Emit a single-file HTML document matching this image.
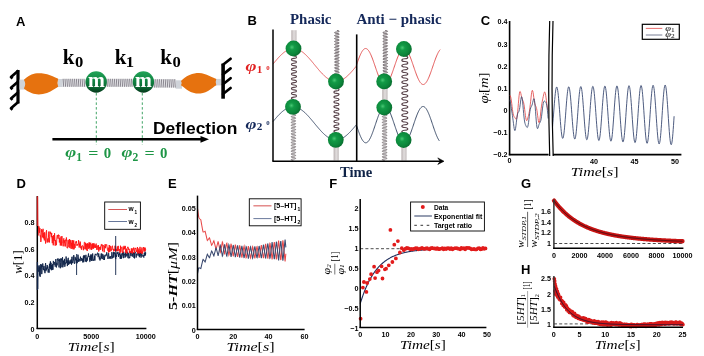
<!DOCTYPE html>
<html><head><meta charset="utf-8"><style>
html,body{margin:0;padding:0;background:#fff;overflow:hidden}
svg{display:block;will-change:transform}

</style></head><body>
<svg width="704" height="356" viewBox="0 0 704 356">
<rect width="704" height="356" fill="#fff"/>
<defs>
<linearGradient id="gb" x1="0" x2="0" y1="0" y2="1">
<stop offset="0" stop-color="#22a458"/><stop offset="0.45" stop-color="#108442"/><stop offset="0.75" stop-color="#0b6632"/><stop offset="1" stop-color="#05381b"/>
</linearGradient>
<radialGradient id="gs" cx="0.4" cy="0.42" r="0.75">
<stop offset="0" stop-color="#48c874"/><stop offset="0.22" stop-color="#129a46"/><stop offset="0.6" stop-color="#0b863a"/><stop offset="0.85" stop-color="#086a2d"/><stop offset="1" stop-color="#044a1e"/>
</radialGradient>
<linearGradient id="rod" x1="0" x2="1" y1="0" y2="0">
<stop offset="0" stop-color="#b8b0b0"/><stop offset="0.5" stop-color="#e2dede"/><stop offset="1" stop-color="#c4bebe"/>
</linearGradient>
</defs>
<text x="16" y="25.5" font-family="Liberation Sans" font-size="13" font-weight="bold" fill="#000">A</text>
<rect x="16.4" y="70" width="3.2" height="33.5" fill="#000"/>
<path d="M18.5,70.5 L11,77 L12.5,78.5" fill="none" stroke="#000" stroke-width="2.7" stroke-linejoin="round"/>
<path d="M18.5,81.2 L11,87.7 L12.5,89.2" fill="none" stroke="#000" stroke-width="2.7" stroke-linejoin="round"/>
<path d="M18.5,91.9 L11,98.4 L12.5,99.9" fill="none" stroke="#000" stroke-width="2.7" stroke-linejoin="round"/>
<path d="M18.5,101.8 L11,108.3 L12.5,109.8" fill="none" stroke="#000" stroke-width="2.7" stroke-linejoin="round"/>
<rect x="221.3" y="63.6" width="3.6" height="35.1" fill="#000"/>
<path d="M223,64.8 L230.6,58.8" fill="none" stroke="#000" stroke-width="2.7" stroke-linecap="round"/>
<path d="M223,74.4 L230.6,68.4" fill="none" stroke="#000" stroke-width="2.7" stroke-linecap="round"/>
<path d="M223,84.2 L230.6,78.2" fill="none" stroke="#000" stroke-width="2.7" stroke-linecap="round"/>
<path d="M223,94 L230.6,88" fill="none" stroke="#000" stroke-width="2.7" stroke-linecap="round"/>
<rect x="19.5" y="79.6" width="5.5" height="10" fill="#cfd3d9"/>
<rect x="57.5" y="79" width="5.3" height="8" fill="#cfd3d9"/>
<rect x="175.6" y="80.3" width="6.4" height="8.4" fill="#cfd3d9"/>
<rect x="215" y="78.9" width="6" height="6.5" fill="#cfd3d9"/>
<path d="M23.9,79.7 C27,77 30,74.5 35,73.6 C40,73 45,73.6 50,75.3 C54,76.8 56,77.8 58.2,78.8 Q56.8,82.7 58.2,86.8 C55,88.5 52,91 47,93 C42,94.8 36,94.8 32,93.3 C28,92 26,90 23.9,88.6 Q26.5,84 23.9,79.7 Z" fill="#e6720f"/>
<path d="M181,81 C183.5,78.5 185.5,76.5 189.5,75 C193,73.5 196,73 199,73 C203,73.3 206,74.3 209,75.8 C212,77.2 214,78 216.3,78.9 Q215,82 216.3,85.2 C214,86.5 212,88.5 208,91 C204,93.2 200,93.8 196,93.5 C192,92.8 189,91.5 186.5,89.5 C184.5,88 183,86.5 181,85.2 Q182.5,83 181,81 Z" fill="#e6720f"/>
<rect x="62.8" y="78.8" width="23.7" height="8" fill="#e9e9ec"/>
<path d="M63.1,78.8 L63.7,86.8 M65,78.8 L65.6,86.8 M66.9,78.8 L67.5,86.8 M68.8,78.8 L69.4,86.8 M70.7,78.8 L71.3,86.8 M72.6,78.8 L73.2,86.8 M74.5,78.8 L75.1,86.8 M76.4,78.8 L77,86.8 M78.3,78.8 L78.9,86.8 M80.2,78.8 L80.8,86.8 M82.1,78.8 L82.7,86.8 M84,78.8 L84.6,86.8" stroke="#55505c" stroke-width="0.65" fill="none"/>
<rect x="106.5" y="78.8" width="27" height="8" fill="#e9e9ec"/>
<path d="M106.8,78.8 L107.4,86.8 M108.7,78.8 L109.3,86.8 M110.6,78.8 L111.2,86.8 M112.5,78.8 L113.1,86.8 M114.4,78.8 L115,86.8 M116.3,78.8 L116.9,86.8 M118.2,78.8 L118.8,86.8 M120.1,78.8 L120.7,86.8 M122,78.8 L122.6,86.8 M123.9,78.8 L124.5,86.8 M125.8,78.8 L126.4,86.8 M127.7,78.8 L128.3,86.8 M129.6,78.8 L130.2,86.8 M131.5,78.8 L132.1,86.8" stroke="#55505c" stroke-width="0.65" fill="none"/>
<rect x="153.5" y="79.2" width="22.5" height="8.4" fill="#e9e9ec"/>
<path d="M153.8,79.2 L154.4,87.6 M155.7,79.2 L156.3,87.6 M157.6,79.2 L158.2,87.6 M159.5,79.2 L160.1,87.6 M161.4,79.2 L162,87.6 M163.3,79.2 L163.9,87.6 M165.2,79.2 L165.8,87.6 M167.1,79.2 L167.7,87.6 M169,79.2 L169.6,87.6 M170.9,79.2 L171.5,87.6 M172.8,79.2 L173.4,87.6 M174.7,79.2 L175.3,87.6" stroke="#55505c" stroke-width="0.65" fill="none"/>
<circle cx="96.2" cy="82" r="10.7" fill="url(#gb)"/>
<circle cx="143.4" cy="82" r="10.7" fill="url(#gb)"/>
<text x="96.3" y="86.9" font-family="Liberation Serif" font-size="22" font-weight="bold" fill="#ffffff" text-anchor="middle" textLength="16.8" lengthAdjust="spacingAndGlyphs">m</text>
<text x="143.5" y="86.9" font-family="Liberation Serif" font-size="22" font-weight="bold" fill="#ffffff" text-anchor="middle" textLength="16.8" lengthAdjust="spacingAndGlyphs">m</text>
<text x="62.7" y="63.7" font-family="Liberation Serif" font-size="21.5" font-weight="bold" fill="#000" textLength="11.6" lengthAdjust="spacingAndGlyphs">k</text>
<text x="74.9" y="67" font-family="Liberation Serif" font-size="14" font-weight="bold" fill="#000" textLength="8.3" lengthAdjust="spacingAndGlyphs">0</text>
<text x="114.7" y="63.7" font-family="Liberation Serif" font-size="21.5" font-weight="bold" fill="#000" textLength="11.6" lengthAdjust="spacingAndGlyphs">k</text>
<text x="125.8" y="67" font-family="Liberation Serif" font-size="14" font-weight="bold" fill="#000" textLength="8.3" lengthAdjust="spacingAndGlyphs">1</text>
<text x="160.3" y="63.7" font-family="Liberation Serif" font-size="21.5" font-weight="bold" fill="#000" textLength="11.6" lengthAdjust="spacingAndGlyphs">k</text>
<text x="172.5" y="67" font-family="Liberation Serif" font-size="14" font-weight="bold" fill="#000" textLength="8.3" lengthAdjust="spacingAndGlyphs">0</text>
<line x1="96.3" y1="93" x2="96.3" y2="145" stroke="#2a9a55" stroke-width="0.9" stroke-dasharray="2.5,2.2"/>
<line x1="142.3" y1="93" x2="142.3" y2="145" stroke="#2a9a55" stroke-width="0.9" stroke-dasharray="2.5,2.2"/>
<line x1="52.4" y1="139.3" x2="202" y2="139.3" stroke="#000" stroke-width="2.6"/>
<path d="M200.5,135.9 L209,139.3 L200.5,142.7 Z" fill="#000"/>
<text x="153" y="134.3" font-family="Liberation Sans" font-size="17.4" font-weight="bold" fill="#000" textLength="84.3" lengthAdjust="spacingAndGlyphs">Deflection</text>
<text x="65.3" y="157.2" font-family="Liberation Serif" font-size="15" font-weight="bold" font-style="italic" fill="#1e9646" textLength="11" lengthAdjust="spacingAndGlyphs">&#966;</text>
<text x="76.3" y="160.6" font-family="Liberation Serif" font-size="11.5" font-weight="bold" fill="#1e9646" textLength="5.8" lengthAdjust="spacingAndGlyphs">1</text>
<text x="88.3" y="157.5" font-family="Liberation Serif" font-size="15" font-weight="bold" fill="#1e9646" textLength="10.2" lengthAdjust="spacingAndGlyphs">=</text>
<text x="103.7" y="157.5" font-family="Liberation Serif" font-size="15" font-weight="bold" fill="#1e9646" textLength="7.4" lengthAdjust="spacingAndGlyphs">0</text>
<text x="121.6" y="157.2" font-family="Liberation Serif" font-size="15" font-weight="bold" font-style="italic" fill="#1e9646" textLength="11" lengthAdjust="spacingAndGlyphs">&#966;</text>
<text x="132.6" y="160.6" font-family="Liberation Serif" font-size="11.5" font-weight="bold" fill="#1e9646" textLength="5.8" lengthAdjust="spacingAndGlyphs">2</text>
<text x="144.6" y="157.5" font-family="Liberation Serif" font-size="15" font-weight="bold" fill="#1e9646" textLength="10.2" lengthAdjust="spacingAndGlyphs">=</text>
<text x="160" y="157.5" font-family="Liberation Serif" font-size="15" font-weight="bold" fill="#1e9646" textLength="7.4" lengthAdjust="spacingAndGlyphs">0</text>
<text x="247.5" y="25.3" font-family="Liberation Sans" font-size="13" font-weight="bold" fill="#000">B</text>
<text x="290" y="24" font-family="Liberation Serif" font-size="15" font-weight="bold" fill="#14285a" textLength="41.5" lengthAdjust="spacingAndGlyphs">Phasic</text>
<text x="356.4" y="24" font-family="Liberation Serif" font-size="15" font-weight="bold" fill="#14285a" textLength="85.2" lengthAdjust="spacingAndGlyphs">Anti &#8722; phasic</text>
<text x="339.9" y="176.7" font-family="Liberation Serif" font-size="14.5" font-weight="bold" fill="#0f2347" textLength="32.4" lengthAdjust="spacingAndGlyphs">Time</text>
<rect x="291.3" y="30.2" width="5.3" height="11.8" fill="url(#rod)"/>
<path d="M294,56 C297.38,56.24 297.38,58.17 294,58.42 C290.62,58.66 290.62,60.59 294,60.83 C297.38,61.08 297.38,63.01 294,63.25 C290.62,63.49 290.62,65.42 294,65.67 C297.38,65.91 297.38,67.84 294,68.08 C290.62,68.33 290.62,70.26 294,70.5 C297.38,70.74 297.38,72.67 294,72.92 C290.62,73.16 290.62,75.09 294,75.33 C297.38,75.57 297.38,77.51 294,77.75 C290.62,77.99 290.62,79.92 294,80.17 C297.38,80.41 297.38,82.34 294,82.58 C290.62,82.82 290.62,84.76 294,85 C297.38,85.24 297.38,87.17 294,87.42 C290.62,87.66 290.62,89.59 294,89.83 C297.38,90.07 297.38,92.01 294,92.25 C290.62,92.49 290.62,94.42 294,94.67 C297.38,94.91 297.38,96.84 294,97.08 C290.62,97.32 290.62,99.26 294,99.5" stroke="#5a454c" stroke-width="1.15" fill="none"/>
<path d="M293.4,114.5 C296.39,114.64 296.39,115.79 293.4,115.94 C290.41,116.08 290.41,117.23 293.4,117.38 C296.39,117.52 296.39,118.67 293.4,118.81 C290.41,118.96 290.41,120.11 293.4,120.25 C296.39,120.39 296.39,121.54 293.4,121.69 C290.41,121.83 290.41,122.98 293.4,123.12 C296.39,123.27 296.39,124.42 293.4,124.56 C290.41,124.71 290.41,125.86 293.4,126 C296.39,126.14 296.39,127.29 293.4,127.44 C290.41,127.58 290.41,128.73 293.4,128.88 C296.39,129.02 296.39,130.17 293.4,130.31 C290.41,130.46 290.41,131.61 293.4,131.75 C296.39,131.89 296.39,133.04 293.4,133.19 C290.41,133.33 290.41,134.48 293.4,134.62 C296.39,134.77 296.39,135.92 293.4,136.06 C290.41,136.21 290.41,137.36 293.4,137.5 C296.39,137.64 296.39,138.79 293.4,138.94 C290.41,139.08 290.41,140.23 293.4,140.38 C296.39,140.52 296.39,141.67 293.4,141.81 C290.41,141.96 290.41,143.11 293.4,143.25 C296.39,143.39 296.39,144.54 293.4,144.69 C290.41,144.83 290.41,145.98 293.4,146.12 C296.39,146.27 296.39,147.42 293.4,147.56 C290.41,147.71 290.41,148.86 293.4,149 C296.39,149.14 296.39,150.29 293.4,150.44 C290.41,150.58 290.41,151.73 293.4,151.88 C296.39,152.02 296.39,153.17 293.4,153.31 C290.41,153.46 290.41,154.61 293.4,154.75 C296.39,154.89 296.39,156.04 293.4,156.19 C290.41,156.33 290.41,157.48 293.4,157.62 C296.39,157.77 296.39,158.92 293.4,159.06 C290.41,159.21 290.41,160.36 293.4,160.5" stroke="#6a6266" stroke-width="0.85" fill="none"/>
<path d="M336.9,30.5 C340.02,30.65 340.02,31.82 336.9,31.97 C333.78,32.11 333.78,33.29 336.9,33.43 C340.02,33.58 340.02,34.75 336.9,34.9 C333.78,35.05 333.78,36.22 336.9,36.37 C340.02,36.51 340.02,37.69 336.9,37.83 C333.78,37.98 333.78,39.15 336.9,39.3 C340.02,39.45 340.02,40.62 336.9,40.77 C333.78,40.91 333.78,42.09 336.9,42.23 C340.02,42.38 340.02,43.55 336.9,43.7 C333.78,43.85 333.78,45.02 336.9,45.17 C340.02,45.31 340.02,46.49 336.9,46.63 C333.78,46.78 333.78,47.95 336.9,48.1 C340.02,48.25 340.02,49.42 336.9,49.57 C333.78,49.71 333.78,50.89 336.9,51.03 C340.02,51.18 340.02,52.35 336.9,52.5 C333.78,52.65 333.78,53.82 336.9,53.97 C340.02,54.11 340.02,55.29 336.9,55.43 C333.78,55.58 333.78,56.75 336.9,56.9 C340.02,57.05 340.02,58.22 336.9,58.37 C333.78,58.51 333.78,59.69 336.9,59.83 C340.02,59.98 340.02,61.15 336.9,61.3 C333.78,61.45 333.78,62.62 336.9,62.77 C340.02,62.91 340.02,64.09 336.9,64.23 C333.78,64.38 333.78,65.55 336.9,65.7 C340.02,65.85 340.02,67.02 336.9,67.17 C333.78,67.31 333.78,68.49 336.9,68.63 C340.02,68.78 340.02,69.95 336.9,70.1 C333.78,70.25 333.78,71.42 336.9,71.57 C340.02,71.71 340.02,72.89 336.9,73.03 C333.78,73.18 333.78,74.35 336.9,74.5" stroke="#5e5458" stroke-width="0.9" fill="none"/>
<path d="M336.5,88.5 C339.88,88.74 339.88,90.7 336.5,90.94 C333.12,91.19 333.12,93.14 336.5,93.39 C339.88,93.63 339.88,95.59 336.5,95.83 C333.12,96.08 333.12,98.03 336.5,98.28 C339.88,98.52 339.88,100.48 336.5,100.72 C333.12,100.97 333.12,102.92 336.5,103.17 C339.88,103.41 339.88,105.37 336.5,105.61 C333.12,105.86 333.12,107.81 336.5,108.06 C339.88,108.3 339.88,110.26 336.5,110.5 C333.12,110.74 333.12,112.7 336.5,112.94 C339.88,113.19 339.88,115.14 336.5,115.39 C333.12,115.63 333.12,117.59 336.5,117.83 C339.88,118.08 339.88,120.03 336.5,120.28 C333.12,120.52 333.12,122.48 336.5,122.72 C339.88,122.97 339.88,124.92 336.5,125.17 C333.12,125.41 333.12,127.37 336.5,127.61 C339.88,127.86 339.88,129.81 336.5,130.06 C333.12,130.3 333.12,132.26 336.5,132.5" stroke="#5a454c" stroke-width="1.15" fill="none"/>
<rect x="333.6" y="147" width="5.2" height="13.5" fill="url(#rod)"/>
<path d="M385.2,30.5 C388.32,30.65 388.32,31.82 385.2,31.97 C382.08,32.11 382.08,33.29 385.2,33.43 C388.32,33.58 388.32,34.75 385.2,34.9 C382.08,35.05 382.08,36.22 385.2,36.37 C388.32,36.51 388.32,37.69 385.2,37.83 C382.08,37.98 382.08,39.15 385.2,39.3 C388.32,39.45 388.32,40.62 385.2,40.77 C382.08,40.91 382.08,42.09 385.2,42.23 C388.32,42.38 388.32,43.55 385.2,43.7 C382.08,43.85 382.08,45.02 385.2,45.17 C388.32,45.31 388.32,46.49 385.2,46.63 C382.08,46.78 382.08,47.95 385.2,48.1 C388.32,48.25 388.32,49.42 385.2,49.57 C382.08,49.71 382.08,50.89 385.2,51.03 C388.32,51.18 388.32,52.35 385.2,52.5 C382.08,52.65 382.08,53.82 385.2,53.97 C388.32,54.11 388.32,55.29 385.2,55.43 C382.08,55.58 382.08,56.75 385.2,56.9 C388.32,57.05 388.32,58.22 385.2,58.37 C382.08,58.51 382.08,59.69 385.2,59.83 C388.32,59.98 388.32,61.15 385.2,61.3 C382.08,61.45 382.08,62.62 385.2,62.77 C388.32,62.91 388.32,64.09 385.2,64.23 C382.08,64.38 382.08,65.55 385.2,65.7 C388.32,65.85 388.32,67.02 385.2,67.17 C382.08,67.31 382.08,68.49 385.2,68.63 C388.32,68.78 388.32,69.95 385.2,70.1 C382.08,70.25 382.08,71.42 385.2,71.57 C388.32,71.71 388.32,72.89 385.2,73.03 C382.08,73.18 382.08,74.35 385.2,74.5" stroke="#5e5458" stroke-width="0.9" fill="none"/>
<rect x="382.2" y="88" width="5.4" height="12.5" fill="url(#rod)"/>
<path d="M384.6,114.5 C387.72,114.64 387.72,115.79 384.6,115.94 C381.48,116.08 381.48,117.23 384.6,117.38 C387.72,117.52 387.72,118.67 384.6,118.81 C381.48,118.96 381.48,120.11 384.6,120.25 C387.72,120.39 387.72,121.54 384.6,121.69 C381.48,121.83 381.48,122.98 384.6,123.12 C387.72,123.27 387.72,124.42 384.6,124.56 C381.48,124.71 381.48,125.86 384.6,126 C387.72,126.14 387.72,127.29 384.6,127.44 C381.48,127.58 381.48,128.73 384.6,128.88 C387.72,129.02 387.72,130.17 384.6,130.31 C381.48,130.46 381.48,131.61 384.6,131.75 C387.72,131.89 387.72,133.04 384.6,133.19 C381.48,133.33 381.48,134.48 384.6,134.62 C387.72,134.77 387.72,135.92 384.6,136.06 C381.48,136.21 381.48,137.36 384.6,137.5 C387.72,137.64 387.72,138.79 384.6,138.94 C381.48,139.08 381.48,140.23 384.6,140.38 C387.72,140.52 387.72,141.67 384.6,141.81 C381.48,141.96 381.48,143.11 384.6,143.25 C387.72,143.39 387.72,144.54 384.6,144.69 C381.48,144.83 381.48,145.98 384.6,146.12 C387.72,146.27 387.72,147.42 384.6,147.56 C381.48,147.71 381.48,148.86 384.6,149 C387.72,149.14 387.72,150.29 384.6,150.44 C381.48,150.58 381.48,151.73 384.6,151.88 C387.72,152.02 387.72,153.17 384.6,153.31 C381.48,153.46 381.48,154.61 384.6,154.75 C387.72,154.89 387.72,156.04 384.6,156.19 C381.48,156.33 381.48,157.48 384.6,157.62 C387.72,157.77 387.72,158.92 384.6,159.06 C381.48,159.21 381.48,160.36 384.6,160.5" stroke="#6a6266" stroke-width="0.85" fill="none"/>
<path d="M404.8,56 C408.7,56.27 408.7,58.48 404.8,58.75 C400.9,59.02 400.9,61.23 404.8,61.5 C408.7,61.77 408.7,63.98 404.8,64.25 C400.9,64.53 400.9,66.72 404.8,67 C408.7,67.28 408.7,69.47 404.8,69.75 C400.9,70.03 400.9,72.22 404.8,72.5 C408.7,72.78 408.7,74.97 404.8,75.25 C400.9,75.53 400.9,77.72 404.8,78 C408.7,78.28 408.7,80.47 404.8,80.75 C400.9,81.03 400.9,83.22 404.8,83.5 C408.7,83.78 408.7,85.97 404.8,86.25 C400.9,86.53 400.9,88.72 404.8,89 C408.7,89.28 408.7,91.47 404.8,91.75 C400.9,92.03 400.9,94.22 404.8,94.5 C408.7,94.78 408.7,96.97 404.8,97.25 C400.9,97.53 400.9,99.72 404.8,100 C408.7,100.28 408.7,102.47 404.8,102.75 C400.9,103.03 400.9,105.22 404.8,105.5 C408.7,105.78 408.7,107.97 404.8,108.25 C400.9,108.53 400.9,110.72 404.8,111 C408.7,111.28 408.7,113.47 404.8,113.75 C400.9,114.03 400.9,116.22 404.8,116.5 C408.7,116.78 408.7,118.97 404.8,119.25 C400.9,119.53 400.9,121.72 404.8,122 C408.7,122.28 408.7,124.47 404.8,124.75 C400.9,125.03 400.9,127.22 404.8,127.5 C408.7,127.78 408.7,129.97 404.8,130.25 C400.9,130.53 400.9,132.72 404.8,133" stroke="#5a454c" stroke-width="1.25" fill="none"/>
<rect x="401.4" y="147" width="5.2" height="13.5" fill="url(#rod)"/>
<path d="M273,64.09 273.4,63.6 273.8,63.11 274.2,62.63 274.6,62.15 275,61.67 275.4,61.19 275.8,60.72 276.2,60.25 276.6,59.79 277,59.32 277.4,58.87 277.8,58.42 278.2,57.97 278.6,57.54 279,57.1 279.4,56.68 279.8,56.26 280.2,55.85 280.6,55.45 281,55.06 281.4,54.67 281.8,54.3 282.2,53.93 282.6,53.57 283,53.23 283.4,52.89 283.8,52.56 284.2,52.25 284.6,51.94 285,51.65 285.4,51.37 285.8,51.1 286.2,50.84 286.6,50.6 287,50.37 287.4,50.15 287.8,49.94 288.2,49.75 288.6,49.57 289,49.4 289.4,49.25 289.8,49.11 290.2,48.99 290.6,48.88 291,48.78 291.4,48.7 291.8,48.63 292.2,48.58 292.6,48.54 293,48.51 293.4,48.5 293.8,48.5 294.2,48.52 294.6,48.55 295,48.6 295.4,48.66 295.8,48.74 296.2,48.83 296.6,48.93 297,49.05 297.4,49.18 297.8,49.33 298.2,49.49 298.6,49.66 299,49.84 299.4,50.04 299.8,50.26 300.2,50.48 300.6,50.72 301,50.97 301.4,51.23 301.8,51.51 302.2,51.8 302.6,52.09 303,52.4 303.4,52.72 303.8,53.06 304.2,53.4 304.6,53.75 305,54.11 305.4,54.48 305.8,54.86 306.2,55.25 306.6,55.65 307,56.06 307.4,56.47 307.8,56.89 308.2,57.32 308.6,57.75 309,58.2 309.4,58.64 309.8,59.1 310.2,59.55 310.6,60.02 311,60.48 311.4,60.96 311.8,61.43 312.2,61.91 312.6,62.39 313,62.87 313.4,63.36 313.8,63.84 314.2,64.33 314.6,64.82 315,65.3 315.4,65.79 315.8,66.28 316.2,66.77 316.6,67.25 317,67.73 317.4,68.21 317.8,68.69 318.2,69.16 318.6,69.63 319,70.1 319.4,70.56 319.8,71.02 320.2,71.47 320.6,71.91 321,72.35 321.4,72.79 321.8,73.21 322.2,73.63 322.6,74.05 323,74.45 323.4,74.85 323.8,75.23 324.2,75.61 324.6,75.98 325,76.34 325.4,76.69 325.8,77.03 326.2,77.36 326.6,77.67 327,77.98 327.4,78.28 327.8,78.56 328.2,78.83 328.6,79.09 329,79.34 329.4,79.57 329.8,79.8 330.2,80.01 330.6,80.2 331,80.39 331.4,80.56 331.8,80.71 332.2,80.85 332.6,80.98 333,81.1 333.4,81.2 333.8,81.28 334.2,81.35 334.6,81.41 335,81.45 335.4,81.48 335.8,81.5 336.2,81.5 336.6,81.48 337,81.45 337.4,81.41 337.8,81.35 338.2,81.28 338.6,81.2 339,81.1 339.4,80.98 339.8,80.85 340.2,80.71 340.6,80.56 341,80.39 341.4,80.2 341.8,80.01 342.2,79.8 342.6,79.57 343,79.34 343.4,79.09 343.8,78.83 344.2,78.56 344.6,78.28 345,77.98 345.4,77.67 345.8,77.36 346.2,77.03 346.6,76.69 347,76.34 347.4,75.98 347.8,75.61 348.2,75.23 348.6,74.85 349,74.45 349.4,74.05 349.8,73.63 350.2,73.21 350.6,72.79 351,72.35 351.4,71.91 351.8,71.47 352.2,71.02 352.6,70.56 353,70.1 353.4,69.63 353.8,69.16 354.2,68.69 354.6,68.21 355,67.73 355.4,67.25 355.8,66.77 356.2,66.28 356.6,64.74 357,63.57 357.4,62.41 357.8,61.27 358.2,60.16 358.6,59.07 359,58.01 359.4,56.99 359.8,56.02 360.2,55.08 360.6,54.2 361,53.36 361.4,52.59 361.8,51.87 362.2,51.21 362.6,50.63 363,50.1 363.4,49.65 363.8,49.28 364.2,48.97 364.6,48.74 365,48.59 365.4,48.51 365.8,48.51 366.2,48.59 366.6,48.74 367,48.97 367.4,49.28 367.8,49.65 368.2,50.1 368.6,50.63 369,51.21 369.4,51.87 369.8,52.59 370.2,53.36 370.6,54.2 371,55.08 371.4,56.02 371.8,56.99 372.2,58.01 372.6,59.07 373,60.16 373.4,61.27 373.8,62.41 374.2,63.57 374.6,64.74 375,65.91 375.4,67.09 375.8,68.26 376.2,69.43 376.6,70.59 377,71.73 377.4,72.84 377.8,73.93 378.2,74.99 378.6,76.01 379,76.98 379.4,77.92 379.8,78.8 380.2,79.64 380.6,80.41 381,81.13 381.4,81.79 381.8,82.37 382.2,82.9 382.6,83.35 383,83.72 383.4,84.03 383.8,84.26 384.2,84.41 384.6,84.49 385,84.49 385.4,84.41 385.8,84.26 386.2,84.03 386.6,83.72 387,83.35 387.4,82.9 387.8,82.37 388.2,81.79 388.6,81.13 389,80.41 389.4,79.64 389.8,78.8 390.2,77.92 390.6,76.98 391,76.01 391.4,74.99 391.8,73.93 392.2,72.84 392.6,71.73 393,70.59 393.4,69.43 393.8,68.26 394.2,67.09 394.6,65.91 395,64.74 395.4,63.57 395.8,62.41 396.2,61.27 396.6,60.16 397,59.07 397.4,58.01 397.8,56.99 398.2,56.02 398.6,55.08 399,54.2 399.4,53.36 399.8,52.59 400.2,51.87 400.6,51.21 401,50.63 401.4,50.1 401.8,49.65 402.2,49.28 402.6,48.97 403,48.74 403.4,48.59 403.8,48.51 404.2,48.51 404.6,48.59 405,48.74 405.4,48.97 405.8,49.28 406.2,49.65 406.6,50.1 407,50.63 407.4,51.21 407.8,51.87 408.2,52.59 408.6,53.36 409,54.2 409.4,55.08 409.8,56.02 410.2,56.99 410.6,58.01 411,59.07 411.4,60.16 411.8,61.27 412.2,62.41 412.6,63.57 413,64.74 413.4,65.91 413.8,67.09 414.2,68.26 414.6,69.43 415,70.59 415.4,71.73 415.8,72.84 416.2,73.93 416.6,74.99 417,76.01 417.4,76.98 417.8,77.92 418.2,78.8 418.6,79.64 419,80.41 419.4,81.13 419.8,81.79 420.2,82.37 420.6,82.9 421,83.35 421.4,83.72 421.8,84.03 422.2,84.26 422.6,84.41 423,84.49 423.4,84.49 423.8,84.41 424.2,84.26 424.6,84.03 425,83.72 425.4,83.35 425.8,82.9 426.2,82.37 426.6,81.79 427,81.13 427.4,80.41 427.8,79.64 428.2,78.8 428.6,77.92 429,76.98 429.4,76.01 429.8,74.99 430.2,73.93 430.6,72.84 431,71.73 431.4,70.59 431.8,69.43 432.2,68.26 432.6,67.09 433,65.91 433.4,64.74 433.8,63.57 434.2,62.41 434.6,61.27 435,60.16 435.4,59.07 435.8,58.01 436.2,56.99 436.6,56.02 437,55.08 437.4,54.2 437.8,53.36 438.2,52.59 438.6,51.87 439,51.21 439.4,50.63 439.8,50.1 440.2,49.65" stroke="#e04848" stroke-width="0.9" fill="none"/>
<path d="M273,121.58 273.4,121.1 273.8,120.62 274.2,120.15 274.6,119.67 275,119.2 275.4,118.73 275.8,118.27 276.2,117.81 276.6,117.36 277,116.91 277.4,116.46 277.8,116.03 278.2,115.59 278.6,115.17 279,114.75 279.4,114.34 279.8,113.94 280.2,113.54 280.6,113.16 281,112.78 281.4,112.41 281.8,112.05 282.2,111.7 282.6,111.37 283,111.04 283.4,110.72 283.8,110.41 284.2,110.11 284.6,109.83 285,109.56 285.4,109.29 285.8,109.04 286.2,108.81 286.6,108.58 287,108.37 287.4,108.17 287.8,107.98 288.2,107.81 288.6,107.65 289,107.5 289.4,107.37 289.8,107.25 290.2,107.15 290.6,107.05 291,106.98 291.4,106.91 291.8,106.86 292.2,106.83 292.6,106.81 293,106.8 293.4,106.81 293.8,106.83 294.2,106.86 294.6,106.91 295,106.98 295.4,107.05 295.8,107.15 296.2,107.25 296.6,107.37 297,107.5 297.4,107.65 297.8,107.81 298.2,107.98 298.6,108.17 299,108.37 299.4,108.58 299.8,108.81 300.2,109.04 300.6,109.29 301,109.56 301.4,109.83 301.8,110.11 302.2,110.41 302.6,110.72 303,111.04 303.4,111.37 303.8,111.7 304.2,112.05 304.6,112.41 305,112.78 305.4,113.16 305.8,113.54 306.2,113.94 306.6,114.34 307,114.75 307.4,115.17 307.8,115.59 308.2,116.03 308.6,116.46 309,116.91 309.4,117.36 309.8,117.81 310.2,118.27 310.6,118.73 311,119.2 311.4,119.67 311.8,120.15 312.2,120.62 312.6,121.1 313,121.58 313.4,122.07 313.8,122.55 314.2,123.04 314.6,123.52 315,124.01 315.4,124.49 315.8,124.97 316.2,125.46 316.6,125.94 317,126.42 317.4,126.89 317.8,127.36 318.2,127.83 318.6,128.3 319,128.76 319.4,129.22 319.8,129.67 320.2,130.11 320.6,130.56 321,130.99 321.4,131.42 321.8,131.84 322.2,132.25 322.6,132.66 323,133.06 323.4,133.45 323.8,133.83 324.2,134.2 324.6,134.57 325,134.92 325.4,135.27 325.8,135.6 326.2,135.92 326.6,136.24 327,136.54 327.4,136.83 327.8,137.11 328.2,137.38 328.6,137.63 329,137.88 329.4,138.11 329.8,138.33 330.2,138.53 330.6,138.72 331,138.9 331.4,139.07 331.8,139.22 332.2,139.36 332.6,139.49 333,139.6 333.4,139.7 333.8,139.79 334.2,139.86 334.6,139.91 335,139.96 335.4,139.98 335.8,140 336.2,140 336.6,139.98 337,139.96 337.4,139.91 337.8,139.86 338.2,139.79 338.6,139.7 339,139.6 339.4,139.49 339.8,139.36 340.2,139.22 340.6,139.07 341,138.9 341.4,138.72 341.8,138.53 342.2,138.33 342.6,138.11 343,137.88 343.4,137.63 343.8,137.38 344.2,137.11 344.6,136.83 345,136.54 345.4,136.24 345.8,135.92 346.2,135.6 346.6,135.27 347,134.92 347.4,134.57 347.8,134.2 348.2,133.83 348.6,133.45 349,133.06 349.4,132.66 349.8,132.25 350.2,131.84 350.6,131.42 351,130.99 351.4,130.56 351.8,130.11 352.2,129.67 352.6,129.22 353,128.76 353.4,128.3 353.8,127.83 354.2,127.36 354.6,126.89 355,126.42 355.4,125.94 355.8,125.46 356.2,124.97 356.6,125.69 357,126.88 357.4,128.06 357.8,129.23 358.2,130.37 358.6,131.49 359,132.58 359.4,133.64 359.8,134.66 360.2,135.63 360.6,136.56 361,137.43 361.4,138.25 361.8,139.01 362.2,139.71 362.6,140.34 363,140.91 363.4,141.4 363.8,141.83 364.2,142.18 364.6,142.45 365,142.64 365.4,142.76 365.8,142.8 366.2,142.76 366.6,142.64 367,142.45 367.4,142.18 367.8,141.83 368.2,141.4 368.6,140.91 369,140.34 369.4,139.71 369.8,139.01 370.2,138.25 370.6,137.43 371,136.56 371.4,135.63 371.8,134.66 372.2,133.64 372.6,132.58 373,131.49 373.4,130.37 373.8,129.23 374.2,128.06 374.6,126.88 375,125.69 375.4,124.5 375.8,123.31 376.2,122.12 376.6,120.94 377,119.78 377.4,118.65 377.8,117.53 378.2,116.45 378.6,115.4 379,114.4 379.4,113.43 379.8,112.52 380.2,111.66 380.6,110.85 381,110.11 381.4,109.43 381.8,108.81 382.2,108.26 382.6,107.78 383,107.38 383.4,107.05 383.8,106.8 384.2,106.62 384.6,106.52 385,106.5 385.4,106.56 385.8,106.7 386.2,106.91 386.6,107.2 387,107.57 387.4,108.01 387.8,108.53 388.2,109.11 388.6,109.76 389,110.47 389.4,111.25 389.8,112.08 390.2,112.97 390.6,113.91 391,114.89 391.4,115.92 391.8,116.99 392.2,118.09 392.6,119.21 393,120.36 393.4,121.53 393.8,122.71 394.2,123.9 394.6,125.1 395,126.29 395.4,127.47 395.8,128.65 396.2,129.8 396.6,130.94 397,132.04 397.4,133.12 397.8,134.15 398.2,135.15 398.6,136.1 399,137 399.4,137.85 399.8,138.64 400.2,139.37 400.6,140.04 401,140.63 401.4,141.17 401.8,141.62 402.2,142.01 402.6,142.32 403,142.56 403.4,142.71 403.8,142.79 404.2,142.79 404.6,142.71 405,142.56 405.4,142.32 405.8,142.01 406.2,141.62 406.6,141.17 407,140.63 407.4,140.04 407.8,139.37 408.2,138.64 408.6,137.85 409,137 409.4,136.1 409.8,135.15 410.2,134.15 410.6,133.12 411,132.04 411.4,130.94 411.8,129.8 412.2,128.65 412.6,127.47 413,126.29 413.4,125.1 413.8,123.9 414.2,122.71 414.6,121.53 415,120.36 415.4,119.21 415.8,118.09 416.2,116.99 416.6,115.92 417,114.89 417.4,113.91 417.8,112.97 418.2,112.08 418.6,111.25 419,110.47 419.4,109.76 419.8,109.11 420.2,108.53 420.6,108.01 421,107.57 421.4,107.2 421.8,106.91 422.2,106.7 422.6,106.56 423,106.5 423.4,106.52 423.8,106.62 424.2,106.8 424.6,107.05 425,107.38 425.4,107.78 425.8,108.26 426.2,108.81 426.6,109.43 427,110.11 427.4,110.85 427.8,111.66 428.2,112.52 428.6,113.43 429,114.4 429.4,115.4 429.8,116.45 430.2,117.53 430.6,118.65 431,119.78 431.4,120.94 431.8,122.12 432.2,123.31 432.6,124.5 433,125.69 433.4,126.88 433.8,128.06 434.2,129.23 434.6,130.37 435,131.49 435.4,132.58 435.8,133.64 436.2,134.66 436.6,135.63 437,136.56 437.4,137.43 437.8,138.25 438.2,139.01 438.6,139.71 439,140.34 439.4,140.91" stroke="#2c3e5c" stroke-width="0.9" fill="none"/>
<circle cx="293.5" cy="48.5" r="7.9" fill="url(#gs)"/>
<circle cx="336" cy="81.5" r="7.9" fill="url(#gs)"/>
<circle cx="293" cy="106.8" r="7.9" fill="url(#gs)"/>
<circle cx="335.8" cy="139.8" r="7.9" fill="url(#gs)"/>
<circle cx="384.2" cy="81.4" r="7.9" fill="url(#gs)"/>
<circle cx="403.9" cy="49" r="7.9" fill="url(#gs)"/>
<circle cx="384.3" cy="107.5" r="7.9" fill="url(#gs)"/>
<circle cx="403.6" cy="140" r="7.9" fill="url(#gs)"/>
<line x1="273" y1="29.5" x2="273" y2="161.1" stroke="#000" stroke-width="1.5"/>
<line x1="356.7" y1="34.4" x2="356.7" y2="161.1" stroke="#000" stroke-width="1.6"/>
<line x1="272.3" y1="161.25" x2="441" y2="161.25" stroke="#000" stroke-width="1.6"/>
<path d="M437.8,157.9 L444,161.25 L437.8,164.4 L440.2,161.25 Z" fill="#000" stroke="#000" stroke-width="0.6" stroke-linejoin="round"/>
<text x="245.6" y="71.2" font-family="Liberation Serif" font-size="15" font-weight="bold" font-style="italic" fill="#e02020" textLength="11" lengthAdjust="spacingAndGlyphs">&#966;</text>
<text x="256.8" y="73" font-family="Liberation Serif" font-size="11" font-weight="bold" fill="#e02020" textLength="5.6" lengthAdjust="spacingAndGlyphs">1</text>
<text x="266.2" y="70.4" font-family="Liberation Serif" font-size="6.8" font-weight="bold" fill="#e02020">0</text>
<text x="245.6" y="128.5" font-family="Liberation Serif" font-size="15" font-weight="bold" font-style="italic" fill="#14285a" textLength="11" lengthAdjust="spacingAndGlyphs">&#966;</text>
<text x="256.8" y="130.3" font-family="Liberation Serif" font-size="11" font-weight="bold" fill="#14285a" textLength="5.6" lengthAdjust="spacingAndGlyphs">2</text>
<text x="266.2" y="125.4" font-family="Liberation Serif" font-size="6.8" font-weight="bold" fill="#14285a">0</text>
<text x="480.8" y="25.2" font-family="Liberation Sans" font-size="13" font-weight="bold" fill="#000">C</text>
<line x1="509.6" y1="21" x2="509.6" y2="155.3" stroke="#000" stroke-width="1.6"/>
<line x1="508.8" y1="154.6" x2="548.6" y2="154.6" stroke="#000" stroke-width="1.6"/>
<line x1="552" y1="154.6" x2="681.4" y2="154.6" stroke="#000" stroke-width="1.6"/>
<text x="507.4" y="24.4" font-family="Liberation Sans" font-size="7.2" font-weight="bold" fill="#000" text-anchor="end">0.4</text>
<text x="507.4" y="46.53" font-family="Liberation Sans" font-size="7.2" font-weight="bold" fill="#000" text-anchor="end">0.3</text>
<text x="507.4" y="68.66" font-family="Liberation Sans" font-size="7.2" font-weight="bold" fill="#000" text-anchor="end">0.2</text>
<text x="507.4" y="90.79" font-family="Liberation Sans" font-size="7.2" font-weight="bold" fill="#000" text-anchor="end">0.1</text>
<text x="507.4" y="112.92" font-family="Liberation Sans" font-size="7.2" font-weight="bold" fill="#000" text-anchor="end">0</text>
<text x="507.4" y="135.05" font-family="Liberation Sans" font-size="7.2" font-weight="bold" fill="#000" text-anchor="end">&#8722;0.1</text>
<text x="507.4" y="157.18" font-family="Liberation Sans" font-size="7.2" font-weight="bold" fill="#000" text-anchor="end">&#8722;0.2</text>
<text x="509.5" y="163.3" font-family="Liberation Sans" font-size="7.2" font-weight="bold" fill="#000" text-anchor="middle">0</text>
<text x="594" y="164.3" font-family="Liberation Sans" font-size="7.2" font-weight="bold" fill="#000" text-anchor="middle">40</text>
<text x="634.4" y="164.3" font-family="Liberation Sans" font-size="7.2" font-weight="bold" fill="#000" text-anchor="middle">45</text>
<text x="675" y="164.3" font-family="Liberation Sans" font-size="7.2" font-weight="bold" fill="#000" text-anchor="middle">50</text>
<text x="570.8" y="175.6" font-family="Liberation Serif" font-size="12.5" font-weight="normal" font-style="italic" fill="#000" textLength="47.7" lengthAdjust="spacingAndGlyphs">Time<tspan font-style="normal">[</tspan>s<tspan font-style="normal">]</tspan></text>
<text transform="translate(487.8,103.6) rotate(-90)" font-family="Liberation Serif" font-size="13.5" font-style="italic" fill="#000" textLength="31" lengthAdjust="spacingAndGlyphs">&#966;<tspan font-size="8.5" dy="1.5">i</tspan><tspan dy="-1.5" font-style="normal">[</tspan>m<tspan font-style="normal">]</tspan></text>
<path d="M510,95.27 510.35,95.88 510.7,97 511.05,98.7 511.4,100.96 511.75,103.64 512.1,106.51 512.45,109.31 512.8,111.79 513.15,113.77 513.5,115.19 513.85,116.12 514.2,116.71 514.55,117.15 514.9,117.6 515.25,118.13 515.6,118.71 515.95,119.17 516.3,119.27 516.65,118.72 517,117.31 517.35,114.93 517.7,111.64 518.05,107.66 518.4,103.38 518.75,99.25 519.1,95.73 519.45,93.16 519.8,91.74 520.15,91.48 520.5,92.19 520.85,93.56 521.2,95.24 521.55,96.89 521.9,98.27 522.25,99.3 522.6,100.06 522.95,100.74 523.3,101.57 523.65,102.8 524,104.57 524.35,106.9 524.7,109.65 525.05,112.58 525.4,115.39 525.75,117.77 526.1,119.49 526.45,120.43 526.8,120.61 527.15,120.14 527.5,119.21 527.85,118.01 528.2,116.68 528.55,115.28 528.9,113.77 529.25,112.05 529.6,109.98 529.95,107.47 530.3,104.53 530.65,101.26 531,97.92 531.35,94.83 531.7,92.35 532.05,90.79 532.4,90.33 532.75,90.99 533.1,92.64 533.45,94.96 533.8,97.58 534.15,100.12 534.5,102.28 534.85,103.91 535.2,105.01 535.55,105.76 535.9,106.42 536.25,107.3 536.6,108.63 536.95,110.54 537.3,112.96 537.65,115.69 538,118.39 538.35,120.67 538.7,122.18 539.05,122.67 539.4,122.05 539.75,120.4 540.1,117.94 540.45,114.98 540.8,111.86 541.15,108.86 541.5,106.15 541.85,103.8 542.2,101.77 542.55,99.95 542.9,98.23 543.25,96.55 543.6,94.94 543.95,93.5 544.3,92.43 544.65,91.95 545,92.22 545.35,93.33 545.7,95.24 546.05,97.75 546.4,100.6 546.75,103.47 547.1,106.05 547.45,108.14 547.8,109.67 548.15,110.72" stroke="#e24848" stroke-width="0.85" fill="none"/>
<path d="M510,99.87 510.35,101.84 510.7,104.1 511.05,106.44 511.4,108.73 511.75,110.96 512.1,113.2 512.45,115.55 512.8,118.09 513.15,120.84 513.5,123.67 513.85,126.36 514.2,128.61 514.55,130.11 514.9,130.61 515.25,129.99 515.6,128.31 515.95,125.81 516.3,122.83 516.65,119.79 517,117.07 517.35,114.95 517.7,113.52 518.05,112.69 518.4,112.2 518.75,111.71 519.1,110.88 519.45,109.49 519.8,107.44 520.15,104.86 520.5,102.07 520.85,99.48 521.2,97.56 521.55,96.7 521.9,97.13 522.25,98.88 522.6,101.77 522.95,105.46 523.3,109.51 523.65,113.47 524,116.99 524.35,119.85 524.7,122 525.05,123.52 525.4,124.6 525.75,125.42 526.1,126.13 526.45,126.77 526.8,127.29 527.15,127.52 527.5,127.28 527.85,126.39 528.2,124.79 528.55,122.53 528.9,119.76 529.25,116.78 529.6,113.89 529.95,111.36 530.3,109.39 530.65,108.01 531,107.1 531.35,106.47 531.7,105.83 532.05,104.98 532.4,103.79 532.75,102.29 533.1,100.71 533.45,99.37 533.8,98.66 534.15,98.94 534.5,100.46 534.85,103.24 535.2,107.1 535.55,111.68 535.9,116.47 536.25,120.93 536.6,124.59 536.95,127.13 537.3,128.44 537.65,128.63 538,127.96 538.35,126.81 538.7,125.51 539.05,124.37 539.4,123.49 539.75,122.87 540.1,122.33 540.45,121.64 540.8,120.56 541.15,118.93 541.5,116.71 541.85,114 542.2,111.03 542.55,108.1 542.9,105.5 543.25,103.45 543.6,102.06 543.95,101.31 544.3,101.08 544.65,101.18 545,101.45 545.35,101.76 545.7,102.14 546.05,102.69 546.4,103.62 546.75,105.15 547.1,107.45 547.45,110.56 547.8,114.36 548.15,118.56" stroke="#3a4a72" stroke-width="0.85" fill="none"/>
<path d="M552,132.07 552.3,129.31 552.6,126.13 552.9,122.62 553.2,118.86 553.5,114.94 553.8,110.96 554.1,107.02 554.4,103.21 554.7,99.63 555,96.36 555.3,93.48 555.6,91.07 555.9,89.18 556.2,87.86 556.5,87.13 556.8,87.02 557.1,87.53 557.4,88.66 557.7,90.37 558,92.62 558.3,95.36 558.6,98.52 558.9,102.03 559.2,105.8 559.5,109.74 559.8,113.75 560.1,117.73 560.4,121.59 560.7,125.24 561,128.58 561.3,131.53 561.6,134.03 561.9,136 562.2,137.4 562.5,138.2 562.8,138.38 563.1,137.92 563.4,136.85 563.7,135.19 564,132.97 564.3,130.26 564.6,127.11 564.9,123.61 565.2,119.83 565.5,115.88 565.8,111.85 566.1,107.84 566.4,103.94 566.7,100.25 567,96.86 567.3,93.86 567.6,91.32 567.9,89.29 568.2,87.84 568.5,86.99 568.8,86.78 569.1,87.19 569.4,88.24 569.7,89.88 570,92.08 570.3,94.79 570.6,97.95 570.9,101.47 571.2,105.26 571.5,109.25 571.8,113.33 572.1,117.39 572.4,121.35 572.7,125.11 573,128.57 573.3,131.64 573.6,134.26 573.9,136.36 574.2,137.89 574.5,138.81 574.8,139.09 575.1,138.73 575.4,137.75 575.7,136.15 576,133.98 576.3,131.3 576.6,128.17 576.9,124.66 577.2,120.86 577.5,116.86 577.8,112.76 578.1,108.67 578.4,104.67 578.7,100.88 579,97.37 579.3,94.25 579.6,91.57 579.9,89.42 580.2,87.84 580.5,86.88 580.8,86.55 581.1,86.87 581.4,87.82 581.7,89.4 582,91.55 582.3,94.22 582.6,97.36 582.9,100.89 583.2,104.71 583.5,108.74 583.8,112.88 584.1,117.03 584.4,121.08 584.7,124.95 585,128.52 585.3,131.72 585.6,134.47 585.9,136.7 586.2,138.35 586.5,139.39 586.8,139.79 587.1,139.53 587.4,138.63 587.7,137.11 588,135 588.3,132.35 588.6,129.24 588.9,125.72 589.2,121.9 589.5,117.86 589.8,113.7 590.1,109.53 590.4,105.44 590.7,101.53 591,97.91 591.3,94.66 591.6,91.86 591.9,89.58 592.2,87.87 592.5,86.78 592.8,86.34 593.1,86.56 593.4,87.42 593.7,88.92 594,91.01 594.3,93.65 594.6,96.77 594.9,100.3 595.2,104.14 595.5,108.22 595.8,112.42 596.1,116.64 596.4,120.79 596.7,124.76 597,128.45 597.3,131.77 597.6,134.65 597.9,137.01 598.2,138.79 598.5,139.95 598.8,140.47 599.1,140.32 599.4,139.51 599.7,138.07 600,136.01 600.3,133.41 600.6,130.31 600.9,126.8 601.2,122.96 601.5,118.88 601.8,114.66 602.1,110.41 602.4,106.23 602.7,102.22 603,98.48 603.3,95.11 603.6,92.18 603.9,89.76 604.2,87.93 604.5,86.71 604.8,86.15 605.1,86.26 605.4,87.03 605.7,88.45 606,90.48 606.3,93.07 606.6,96.17 606.9,99.69 607.2,103.56 607.5,107.67 607.8,111.93 608.1,116.23 608.4,120.46 608.7,124.54 609,128.34 609.3,131.79 609.6,134.8 609.9,137.29 610.2,139.2 610.5,140.49 610.8,141.13 611.1,141.09 611.4,140.38 611.7,139.01 612,137.03 612.3,134.47 612.6,131.4 612.9,127.89 613.2,124.03 613.5,119.91 613.8,115.64 614.1,111.32 614.4,107.05 614.7,102.93 615,99.08 615.3,95.58 615.6,92.52 615.9,89.97 616.2,88.01 616.5,86.66 616.8,85.98 617.1,85.98 617.4,86.65 617.7,87.98 618,89.95 618.3,92.5 618.6,95.56 618.9,99.08 619.2,102.96 619.5,107.1 619.8,111.41 620.1,115.78 620.4,120.11 620.7,124.29 621,128.21 621.3,131.78 621.6,134.92 621.9,137.54 622.2,139.59 622.5,141.01 622.8,141.77 623.1,141.84 623.4,141.23 623.7,139.95 624,138.04 624.3,135.53 624.6,132.48 624.9,128.99 625.2,125.12 625.5,120.97 625.8,116.64 626.1,112.25 626.4,107.89 626.7,103.68 627,99.71 627.3,96.09 627.6,92.9 627.9,90.22 628.2,88.11 628.5,86.64 628.8,85.83 629.1,85.71 629.4,86.28 629.7,87.53 630,89.42 630.3,91.92 630.6,94.95 630.9,98.46 631.2,102.34 631.5,106.52 631.8,110.88 632.1,115.32 632.4,119.73 632.7,124.01 633,128.04 633.3,131.74 633.6,135.01 633.9,137.77 634.2,139.95 634.5,141.5 634.8,142.39 635.1,142.58 635.4,142.07 635.7,140.88 636,139.04 636.3,136.59 636.6,133.58 636.9,130.1 637.2,126.22 637.5,122.04 637.8,117.67 638.1,113.21 638.4,108.77 638.7,104.45 639,100.37 639.3,96.62 639.6,93.3 639.9,90.49 640.2,88.25 640.5,86.64 640.8,85.71 641.1,85.47 641.4,85.93 641.7,87.08 642,88.9 642.3,91.34 642.6,94.34 642.9,97.82 643.2,101.71 643.5,105.91 643.8,110.32 644.1,114.83 644.4,119.32 644.7,123.7 645,127.85 645.3,131.67 645.6,135.07 645.9,137.96 646.2,140.28 646.5,141.97 646.8,142.98 647.1,143.29 647.4,142.9 647.7,141.8 648,140.04 648.3,137.64 648.6,134.68 648.9,131.21 649.2,127.33 649.5,123.14 649.8,118.72 650.1,114.19 650.4,109.67 650.7,105.25 651,101.06 651.3,97.19 651.6,93.74 651.9,90.78 652.2,88.41 652.5,86.67 652.8,85.6 653.1,85.24 653.4,85.59 653.7,86.65 654,88.38 654.3,90.76 654.6,93.71 654.9,97.18 655.2,101.07 655.5,105.29 655.8,109.74 656.1,114.31 656.4,118.89 656.7,123.36 657,127.62 657.3,131.57 657.6,135.1 657.9,138.13 658.2,140.59 658.5,142.41 658.8,143.55 659.1,143.99 659.4,143.71 659.7,142.71 660,141.03 660.3,138.7 660.6,135.78 660.9,132.34 661.2,128.46 661.5,124.24 661.8,119.79 662.1,115.2 662.4,110.59 662.7,106.09 663,101.78 663.3,97.79 663.6,94.2 663.9,91.11 664.2,88.6 664.5,86.72 664.8,85.52 665.1,85.03 665.4,85.27 665.7,86.22 666,87.87 666.3,90.18 666.6,93.09 666.9,96.53 667.2,100.42 667.5,104.66 667.8,109.14 668.1,113.77 668.4,118.43 668.7,123 669,127.37 669.3,131.43 669.6,135.1 669.9,138.27 670.2,140.86 670.5,142.83 670.8,144.1 671.1,144.67 671.4,144.5 671.7,143.61 672,142.02 672.3,139.76 672.6,136.89 672.9,133.47 673.2,129.6 673.5,125.37 673.8,120.87 674.1,116.23" stroke="#3a4a72" stroke-width="0.9" fill="none"/>
<path d="M551.2,20.5 Q549.2,88 551.2,156" stroke="#fff" stroke-width="3.4" fill="none"/>
<path d="M549.7,20.9 Q547.7,88 549.7,156" stroke="#000" stroke-width="1.2" fill="none"/>
<path d="M553,20.9 Q551,88 553.2,156" stroke="#000" stroke-width="1.2" fill="none"/>
<rect x="642.3" y="24.3" width="37" height="15" fill="#fff" stroke="#000" stroke-width="1.2"/>
<line x1="645.8" y1="28.4" x2="662.3" y2="28.4" stroke="#e24848" stroke-width="0.8"/>
<line x1="645.8" y1="35" x2="662.3" y2="35" stroke="#6a7088" stroke-width="0.9"/>
<text x="665.2" y="30.6" font-family="Liberation Serif" font-size="8.5" font-weight="normal" font-style="italic" fill="#000" textLength="9.4" lengthAdjust="spacingAndGlyphs">&#966;<tspan font-size="6" dy="0.9" font-style="normal">1</tspan></text>
<text x="665.2" y="37.2" font-family="Liberation Serif" font-size="8.5" font-weight="normal" font-style="italic" fill="#000" textLength="9.4" lengthAdjust="spacingAndGlyphs">&#966;<tspan font-size="6" dy="0.9" font-style="normal">2</tspan></text>
<text x="16.4" y="188.2" font-family="Liberation Sans" font-size="13" font-weight="bold" fill="#000">D</text>
<text x="34.6" y="225.3" font-family="Liberation Sans" font-size="7.2" font-weight="bold" fill="#000" text-anchor="end">0.8</text>
<text x="34.6" y="251.85" font-family="Liberation Sans" font-size="7.2" font-weight="bold" fill="#000" text-anchor="end">0.6</text>
<text x="34.6" y="278.4" font-family="Liberation Sans" font-size="7.2" font-weight="bold" fill="#000" text-anchor="end">0.4</text>
<text x="34.6" y="304.95" font-family="Liberation Sans" font-size="7.2" font-weight="bold" fill="#000" text-anchor="end">0.2</text>
<text x="34.6" y="331.5" font-family="Liberation Sans" font-size="7.2" font-weight="bold" fill="#000" text-anchor="end">0</text>
<text x="37.3" y="338.8" font-family="Liberation Sans" font-size="7.2" font-weight="bold" fill="#000" text-anchor="middle">0</text>
<text x="91.3" y="338.8" font-family="Liberation Sans" font-size="7.2" font-weight="bold" fill="#000" text-anchor="middle">5000</text>
<text x="145.8" y="338.8" font-family="Liberation Sans" font-size="7.2" font-weight="bold" fill="#000" text-anchor="middle">10000</text>
<text x="67.8" y="350.5" font-family="Liberation Serif" font-size="12.5" font-weight="normal" font-style="italic" fill="#000" textLength="46.9" lengthAdjust="spacingAndGlyphs">Time<tspan font-style="normal">[</tspan>s<tspan font-style="normal">]</tspan></text>
<text transform="translate(21.5,273.8) rotate(-90)" font-family="Liberation Serif" font-size="12" font-style="italic" fill="#000" textLength="23.6" lengthAdjust="spacingAndGlyphs">w<tspan font-style="normal">[1]</tspan></text>
<path d="M37.6,266.97 37.7,289 37.92,265.69 38.24,269.73 38.56,271.57 38.88,270.36 39.2,265.36 39.52,275.54 39.84,266.92 40.16,276.84 40.48,269.02 40.8,264.04 41.12,267.24 41.44,264.74 41.76,274.11 42.08,270.75 42.4,267.77 42.72,263.46 43.04,265.25 43.36,268.07 43.68,270.02 44,266.09 44.32,271.21 44.64,269.42 44.96,273.2 45.28,265.4 45.6,263.07 45.92,271.2 46.24,267.6 46.56,269.76 46.88,268.4 47.2,264.97 47.52,268.4 47.84,266.52 48.16,272.52 48.48,268.86 48.8,269.19 49.12,272.67 49.44,263.77 49.76,268.38 50.08,265.72 50.4,261.39 50.72,269.21 51.04,262.77 51.36,270.19 51.68,264.98 52,270.07 52.32,269.71 52.64,264.24 52.96,269.69 53.28,260.91 53.6,261.76 53.92,264.63 54.24,261.93 54.56,263.65 54.88,265.26 55.2,266.59 55.52,265.64 55.84,259.06 56.16,267.28 56.48,267.37 56.8,262.73 57.12,265.3 57.44,258.81 57.76,259.79 58.08,258.48 58.4,259.51 58.72,261.79 59.04,267.36 59.36,259.24 59.68,261.35 60,258.8 60.32,268.24 60.64,262.59 60.96,258.35 61.28,260.04 61.6,258.85 61.92,267.27 62.24,258.55 62.56,257.2 62.88,267.27 63.2,264.17 63.52,260.6 63.84,264.8 64.16,264.78 64.48,258.87 64.8,266.76 65.12,264.81 65.44,264.03 65.76,261.65 66.08,256.53 66.4,259.05 66.72,263.22 67.04,260.63 67.36,266.08 67.68,259.65 68,258.19 68.32,257.9 68.64,264.86 68.96,260.55 69.28,263.69 69.6,262.23 69.92,263.37 70.24,260.27 70.56,263.29 70.88,263.33 71.2,259.27 71.52,264.63 71.84,256.94 72.16,256.7 72.48,263.04 72.8,263.16 73.12,261.46 73.44,260.34 73.76,255.13 74.08,261.2 74.4,263.86 74.72,263.2 75.04,256.83 75.36,257.56 75.68,260.3 76,258.66 76.32,263.24 76.64,258.92 76.96,263.06 77.28,263.12 77.6,259.45 77.92,254.62 78.24,256.11 78.56,261.78 78.88,258.71 79.2,259.43 79.52,259.03 79.84,261.42 80.16,259.31 80.48,256.67 80.8,258.74 81.12,260.98 81.44,258.06 81.76,258.58 82.08,260.22 82.4,258.74 82.72,262.36 83.04,261.73 83.36,256.16 83.68,262.22 84,254.99 84.32,257.67 84.64,255.84 84.96,259.6 85.28,261.56 85.6,259.92 85.92,254.84 86.24,262.04 86.56,261.86 86.88,257.75 87.2,260.72 87.52,257.19 87.84,256.35 88.16,256.14 88.48,253.52 88.8,257.12 89.12,256.15 89.44,257.67 89.76,261.68 90.08,261.53 90.4,255.46 90.72,259.8 91.04,254.24 91.36,260.85 91.68,255.28 92,260.83 92.32,258.95 92.64,253.5 92.96,256.56 93.28,260.84 93.6,259.65 93.92,260.07 94.24,260.09 94.56,255.7 94.88,260.55 95.2,253.9 95.52,254.78 95.84,254.12 96.16,254.43 96.48,255.25 96.8,255.1 97.12,254.16 97.44,252.83 97.76,252.78 98.08,257.14 98.4,256.49 98.72,253.46 99.04,256.09 99.36,259.33 99.68,256.64 100,260.46 100.32,259.22 100.64,257.61 100.96,255.26 101.28,253.49 101.6,258.37 101.92,253.72 102.24,259.11 102.56,257.72 102.88,254.29 103.2,255.99 103.52,255.86 103.84,259.93 104.16,256.62 104.48,259.91 104.8,255.07 105.12,255.25 105.44,256.18 105.76,256.18 106.08,254.27 106.4,255.31 106.72,252.34 107.04,253.97 107.36,256.26 107.68,257.24 108,258.94 108.32,254.62 108.64,253.24 108.96,257.04 109.28,258.51 109.6,256.88 109.92,258.29 110.24,256.04 110.56,258.42 110.88,258.33 111.2,258.82 111.52,257.27 111.84,252.18 112.16,254.69 112.48,258.3 112.8,256.69 113.12,257.07 113.44,251.91 113.76,257.55 114.08,255.92 114.4,252.35 114.72,253.74 115.04,253.83 115.36,253.36 115.68,259.15 116,254.67 116.32,256.92 116.64,256.4 116.96,252.34 117.28,253.65 117.6,254.01 117.92,251.82 118.24,253.72 118.56,256.87 118.88,253.86 119.2,255.14 119.52,252.56 119.84,253.14 120.16,258.6 120.48,255.05 120.8,258.8 121.12,253.61 121.44,258.6 121.76,255.9 122.08,255.46 122.4,252.57 122.72,255.32 123.04,256.74 123.36,258.15 123.68,251.74 124,255.15 124.32,253.75 124.64,254.05 124.96,257.66 125.28,256.99 125.6,252.38 125.92,256.69 126.24,253.6 126.56,254.34 126.88,255.75 127.2,254.57 127.52,251.81 127.84,257.5 128.16,258.21 128.48,253.36 128.8,252.8 129.12,258.32 129.44,257.27 129.76,257.99 130.08,255.35 130.4,251.75 130.72,254.63 131.04,256.01 131.36,251.73 131.68,252.28 132,253.82 132.32,256.64 132.64,253.21 132.96,253.49 133.28,254.15 133.6,252.49 133.92,257.78 134.24,252.89 134.56,258.4 134.88,252.3 135.2,251.95 135.52,251.94 135.84,253.12 136.16,257.57 136.48,254.2 136.8,254.98 137.12,253.66 137.44,253.22 137.76,252.15 138.08,255.69 138.4,252.77 138.72,252.99 139.04,254.38 139.36,257.2 139.68,251.38 140,256.2 140.32,254.54 140.64,251.22 140.96,257.7 141.28,257.19 141.6,252.94 141.92,252.28 142.24,255.96 142.56,256.23 142.88,256.52 143.2,255.02 143.52,256.62 143.84,257.57 144.16,253.28 144.48,252.91 144.8,256.01 145.12,251.64 145.44,255.19 145.76,252.7" stroke="#0f2348" stroke-width="0.95" fill="none"/>
<path d="M37.6,196.5 37.92,235.62 38.24,233.89 38.56,226.32 38.88,226.17 39.2,226.88 39.52,232.71 39.84,228.09 40.16,236.22 40.48,235.56 40.8,241.94 41.12,240.21 41.44,229.27 41.76,231.97 42.08,230.16 42.4,237.32 42.72,236.06 43.04,228.81 43.36,238.32 43.68,232.95 44,235.17 44.32,240.37 44.64,232.34 44.96,236.63 45.28,239.75 45.6,243.52 45.92,235.45 46.24,231.73 46.56,230.25 46.88,240.8 47.2,242.49 47.52,240.02 47.84,238.5 48.16,242.28 48.48,237.24 48.8,231.59 49.12,239.88 49.44,242.41 49.76,236.49 50.08,231.63 50.4,233.76 50.72,232.4 51.04,233.49 51.36,237.15 51.68,233.09 52,239.5 52.32,243.19 52.64,236.11 52.96,237.29 53.28,245.28 53.6,235.11 53.92,235.98 54.24,240.72 54.56,233.24 54.88,238.07 55.2,245.68 55.52,240.15 55.84,242.3 56.16,245.22 56.48,244.98 56.8,238.98 57.12,235.46 57.44,235.06 57.76,236.99 58.08,238.73 58.4,234.63 58.72,235.99 59.04,235.16 59.36,242.46 59.68,238.14 60,239.59 60.32,245.54 60.64,241 60.96,236.54 61.28,239.7 61.6,245.57 61.92,236.1 62.24,242.16 62.56,242.42 62.88,242.32 63.2,246.31 63.52,239.37 63.84,238.37 64.16,242.68 64.48,240.42 64.8,246.03 65.12,246.56 65.44,246.23 65.76,239.58 66.08,241.12 66.4,237.51 66.72,240.2 67.04,248.08 67.36,247.92 67.68,248.17 68,240.09 68.32,239.91 68.64,244.69 68.96,247.13 69.28,245.13 69.6,239.01 69.92,248.05 70.24,246.37 70.56,240.26 70.88,241.99 71.2,248.91 71.52,242.87 71.84,246.38 72.16,240.09 72.48,248.4 72.8,240.44 73.12,249.29 73.44,242.73 73.76,240.5 74.08,249.32 74.4,244.75 74.72,243.85 75.04,247.96 75.36,242.1 75.68,242.05 76,242.3 76.32,241.06 76.64,243.39 76.96,245.78 77.28,244.19 77.6,245.06 77.92,245.33 78.24,244.55 78.56,240.25 78.88,241.99 79.2,247.55 79.52,243.64 79.84,245.96 80.16,241.58 80.48,243.04 80.8,248.23 81.12,246.22 81.44,249.68 81.76,246.81 82.08,245.88 82.4,245.35 82.72,245.65 83.04,247.82 83.36,250.19 83.68,246.57 84,249.29 84.32,242.49 84.64,242.08 84.96,242.14 85.28,248.9 85.6,243.02 85.92,247.82 86.24,249.94 86.56,243.78 86.88,245.49 87.2,251.04 87.52,243.39 87.84,246.71 88.16,243.8 88.48,248.7 88.8,247.19 89.12,242.32 89.44,247.9 89.76,242.84 90.08,249.47 90.4,243.3 90.72,242.76 91.04,244.89 91.36,246.3 91.68,249.91 92,243.94 92.32,247.75 92.64,243.49 92.96,248.87 93.28,243.43 93.6,248.45 93.92,243.62 94.24,243.51 94.56,246.96 94.88,247.87 95.2,245.4 95.52,247.71 95.84,244.09 96.16,243.62 96.48,245.94 96.8,249.86 97.12,247.64 97.44,246.35 97.76,245.55 98.08,249.74 98.4,245.1 98.72,251.52 99.04,250.55 99.36,247.82 99.68,246.98 100,249.51 100.32,246.61 100.64,249.73 100.96,247.2 101.28,244.28 101.6,244.45 101.92,246.04 102.24,244.64 102.56,251.25 102.88,246.36 103.2,246.48 103.52,245.38 103.84,246.3 104.16,252.21 104.48,246.2 104.8,246.77 105.12,244.25 105.44,248.19 105.76,245.96 106.08,244.39 106.4,245.11 106.72,244.75 107.04,246.93 107.36,249.25 107.68,250.61 108,250.35 108.32,247.73 108.64,252.57 108.96,250.48 109.28,245.01 109.6,251.87 109.92,250.62 110.24,245.87 110.56,248.82 110.88,251.25 111.2,249.5 111.52,250.31 111.84,246.73 112.16,245.98 112.48,245.79 112.8,249.41 113.12,249.96 113.44,248.9 113.76,251.36 114.08,249.05 114.4,250.3 114.72,250.93 115.04,245.75 115.36,250.91 115.68,251.01 116,249.1 116.32,249.01 116.64,251.27 116.96,250.32 117.28,246.49 117.6,251.13 117.92,249.79 118.24,245.89 118.56,250.63 118.88,250.68 119.2,249.47 119.52,249.1 119.84,252.4 120.16,253.06 120.48,245.72 120.8,251.88 121.12,249.06 121.44,247.25 121.76,247.28 122.08,246.77 122.4,252.95 122.72,251.96 123.04,252.48 123.36,247.53 123.68,249.47 124,245.85 124.32,249.24 124.64,246.92 124.96,248.26 125.28,245.91 125.6,252.22 125.92,252.89 126.24,252.71 126.56,248.76 126.88,253.46 127.2,248.71 127.52,248.09 127.84,246.81 128.16,248.2 128.48,247.94 128.8,249.9 129.12,248.9 129.44,252.7 129.76,250.83 130.08,253.13 130.4,251.51 130.72,251.62 131.04,251.78 131.36,248.36 131.68,253.08 132,249.75 132.32,248.49 132.64,253.47 132.96,251.14 133.28,250.43 133.6,247.59 133.92,247.9 134.24,250.02 134.56,253.02 134.88,249.71 135.2,247.85 135.52,248.95 135.84,248.21 136.16,250.62 136.48,251.94 136.8,249.52 137.12,249.26 137.44,247 137.76,253.55 138.08,250.21 138.4,252.81 138.72,248.56 139.04,249.5 139.36,253.49 139.68,252.92 140,246.89 140.32,253.1 140.64,250.9 140.96,249.51 141.28,252.62 141.6,253.67 141.92,247.52 142.24,250.48 142.56,253.48 142.88,251.39 143.2,250.05 143.52,247.09 143.84,248.47 144.16,251.41 144.48,247.75 144.8,251.36 145.12,247.66 145.44,250.59 145.76,249.63" stroke="#ff1414" stroke-width="0.95" fill="none"/>
<line x1="76.6" y1="254" x2="76.6" y2="275" stroke="#0f2348" stroke-width="0.9"/>
<line x1="115.7" y1="236" x2="115.7" y2="275" stroke="#0f2348" stroke-width="0.9"/>
<line x1="37.3" y1="196.1" x2="37.3" y2="329" stroke="#000" stroke-width="1.5"/>
<line x1="36.6" y1="328.4" x2="146.4" y2="328.4" stroke="#000" stroke-width="1.5"/>
<line x1="37.4" y1="196.3" x2="37.4" y2="226" stroke="#c81818" stroke-width="1.3"/>
<line x1="37.4" y1="262" x2="37.4" y2="290" stroke="#0f2348" stroke-width="1.3"/>
<rect x="104.7" y="202" width="35.7" height="27.3" fill="#fff" stroke="#000" stroke-width="0.9"/>
<line x1="108.3" y1="209.5" x2="127" y2="209.5" stroke="#d04444" stroke-width="0.9"/>
<line x1="108.3" y1="221.5" x2="127" y2="221.5" stroke="#56688e" stroke-width="0.9"/>
<text x="128.6" y="211.2" font-family="Liberation Sans" font-size="6.6" font-weight="bold" fill="#000">w</text>
<text x="134.4" y="214.3" font-family="Liberation Sans" font-size="4.6" font-weight="bold" fill="#000">1</text>
<text x="128.6" y="223.9" font-family="Liberation Sans" font-size="6.6" font-weight="bold" fill="#000">w</text>
<text x="134.4" y="226.6" font-family="Liberation Sans" font-size="4.6" font-weight="bold" fill="#000">2</text>
<text x="168" y="188.2" font-family="Liberation Sans" font-size="13" font-weight="bold" fill="#000">E</text>
<text x="195.8" y="211" font-family="Liberation Sans" font-size="7.2" font-weight="bold" fill="#000" text-anchor="end">0.05</text>
<text x="195.8" y="235.3" font-family="Liberation Sans" font-size="7.2" font-weight="bold" fill="#000" text-anchor="end">0.04</text>
<text x="195.8" y="259.6" font-family="Liberation Sans" font-size="7.2" font-weight="bold" fill="#000" text-anchor="end">0.03</text>
<text x="195.8" y="283.9" font-family="Liberation Sans" font-size="7.2" font-weight="bold" fill="#000" text-anchor="end">0.02</text>
<text x="195.8" y="308.2" font-family="Liberation Sans" font-size="7.2" font-weight="bold" fill="#000" text-anchor="end">0.01</text>
<text x="195.8" y="332.5" font-family="Liberation Sans" font-size="7.2" font-weight="bold" fill="#000" text-anchor="end">0</text>
<text x="197.6" y="339" font-family="Liberation Sans" font-size="7.2" font-weight="bold" fill="#000" text-anchor="middle">0</text>
<text x="233.2" y="339" font-family="Liberation Sans" font-size="7.2" font-weight="bold" fill="#000" text-anchor="middle">20</text>
<text x="268.6" y="339" font-family="Liberation Sans" font-size="7.2" font-weight="bold" fill="#000" text-anchor="middle">40</text>
<text x="304.6" y="339" font-family="Liberation Sans" font-size="7.2" font-weight="bold" fill="#000" text-anchor="middle">60</text>
<text x="226.4" y="351.2" font-family="Liberation Serif" font-size="12.5" font-weight="normal" font-style="italic" fill="#000" textLength="48.2" lengthAdjust="spacingAndGlyphs">Time<tspan font-style="normal">[</tspan>s<tspan font-style="normal">]</tspan></text>
<text transform="translate(177,310) rotate(-90)" font-family="Liberation Serif" font-size="12" font-weight="bold" fill="#000" textLength="68" lengthAdjust="spacingAndGlyphs">5-<tspan font-style="italic">HT</tspan><tspan font-weight="normal">[</tspan><tspan font-style="italic" font-weight="normal">&#956;M</tspan><tspan font-weight="normal">]</tspan></text>
<path d="M197.6,208.88 197.85,210.8 198.1,212.68 198.35,214.52 198.6,216.33 198.85,217.22 199.1,217.66 199.35,218.07 199.6,218.44 199.85,218.78 200.1,219.09 200.35,219.37 200.6,219.62 200.85,219.9 201.1,221.4 201.35,222.86 201.6,224.3 201.85,225.72 202.1,227.11 202.35,228.48 202.6,229.83 202.85,231.15 203.1,231.93 203.35,231.92 203.6,231.88 203.85,231.83 204.1,231.75 204.35,231.66 204.6,231.55 204.85,231.42 205.1,231.28 205.35,232.11 205.6,233.23 205.85,234.33 206.1,235.42 206.35,236.49 206.6,237.56 206.85,238.6 207.1,239.64 207.35,240.5 207.6,240.21 207.85,239.91 208.1,239.6 208.35,239.27 208.6,238.94 208.85,238.59 209.1,238.24 209.35,237.87 209.6,238.12 209.85,239.03 210.1,239.94 210.35,240.83 210.6,241.71 210.85,242.59 211.1,243.46 211.35,244.32 211.6,245.18 211.85,244.93 212.1,244.51 212.35,244.06 212.6,243.57 212.85,243.03 213.1,242.45 213.35,241.83 213.6,241.17 213.85,240.79 214.1,241.67 214.35,242.59 214.6,243.53 214.85,244.51 215.1,245.53 215.35,246.57 215.6,247.65 215.85,248.77 216.1,248.83 216.35,248.04 216.6,247.2 216.85,246.33 217.1,245.42 217.35,244.47 217.6,243.48 217.85,242.45 218.1,241.38 218.35,242.36 218.6,243.53 218.85,244.74 219.1,245.99 219.35,247.27 219.6,248.58 219.85,249.93 220.1,251.32 220.35,252.01 220.6,250.88 220.85,249.71 221.1,248.51 221.35,247.26 221.6,245.98 221.85,244.66 222.1,243.31 222.35,241.91 222.6,242.34 222.85,243.85 223.1,245.36 223.35,246.87 223.6,248.38 223.85,249.89 224.1,251.4 224.35,252.91 224.6,254.39 224.85,253.03 225.1,251.67 225.35,250.3 225.6,248.93 225.85,247.57 226.1,246.2 226.35,244.83 226.6,243.46 226.85,243.15 227.1,244.64 227.35,246.14 227.6,247.64 227.85,249.14 228.1,250.63 228.35,252.13 228.6,253.62 228.85,255.12 229.1,254.52 229.35,253.14 229.6,251.76 229.85,250.38 230.1,249 230.35,247.62 230.6,246.24 230.85,244.86 231.1,243.73 231.35,245.21 231.6,246.7 231.85,248.19 232.1,249.67 232.35,251.15 232.6,252.64 232.85,254.12 233.1,255.6 233.35,255.79 233.6,254.4 233.85,253.01 234.1,251.62 234.35,250.23 234.6,248.84 234.85,247.45 235.1,246.06 235.35,244.66 235.6,245.6 235.85,247.08 236.1,248.55 236.35,250.03 236.6,251.51 236.85,252.98 237.1,254.46 237.35,255.94 237.6,256.92 237.85,255.53 238.1,254.13 238.35,252.74 238.6,251.34 238.85,249.95 239.1,248.55 239.35,247.16 239.6,245.76 239.85,245.89 240.1,247.36 240.35,248.84 240.6,250.31 240.85,251.78 241.1,253.26 241.35,254.73 241.6,256.2 241.85,257.67 242.1,256.58 242.35,255.18 242.6,253.78 242.85,252.38 243.1,250.98 243.35,249.58 243.6,248.18 243.85,246.78 244.1,246.1 244.35,247.56 244.6,249.03 244.85,250.5 245.1,251.96 245.35,253.42 245.6,254.89 245.85,256.35 246.1,257.81 246.35,257.51 246.6,256.1 246.85,254.68 247.1,253.27 247.35,251.86 247.6,250.44 247.85,249.02 248.1,247.61 248.35,246.19 248.6,247.56 248.85,249.01 249.1,250.46 249.35,251.91 249.6,253.35 249.85,254.8 250.1,256.24 250.35,257.68 250.6,258.16 250.85,256.73 251.1,255.3 251.35,253.86 251.6,252.43 251.85,250.99 252.1,249.55 252.35,248.11 252.6,246.67 252.85,247.23 253.1,248.65 253.35,250.08 253.6,251.51 253.85,252.93 254.1,254.35 254.35,255.78 254.6,257.2 254.85,258.46 255.1,257 255.35,255.55 255.6,254.1 255.85,252.64 256.1,251.19 256.35,249.73 256.6,248.27 256.85,246.82 257.1,246.55 257.35,247.97 257.6,249.38 257.85,250.79 258.1,252.19 258.35,253.61 258.6,255.04 258.85,256.49 259.1,257.97 259.35,257.16 259.6,255.68 259.85,254.18 260.1,252.65 260.35,251.11 260.6,249.54 260.85,247.95 261.1,246.34 261.35,245.14 261.6,246.64 261.85,248.16 262.1,249.71 262.35,251.28 262.6,252.86 262.85,254.47 263.1,256.11 263.35,257.76 263.6,257.78 263.85,256.12 264.1,254.44 264.35,252.73 264.6,251.01 264.85,249.26 265.1,247.5 265.35,245.71 265.6,243.9 265.85,245.1 266.1,246.81 266.35,248.54 266.6,250.29 266.85,252.06 267.1,253.86 267.35,255.67 267.6,257.51 267.85,258.57 268.1,256.73 268.35,254.88 268.6,253.01 268.85,251.11 269.1,249.2 269.35,247.26 269.6,245.31 269.85,243.33 270.1,243.58 270.35,245.48 270.6,247.39 270.85,249.33 271.1,251.3 271.35,253.28 271.6,255.29 271.85,257.31 272.1,259.36 272.35,257.6 272.6,255.58 272.85,253.53 273.1,251.47 273.35,249.38 273.6,247.28 273.85,245.15 274.1,243 274.35,242.11 274.6,244.19 274.85,246.3 275.1,248.42 275.35,250.57 275.6,252.74 275.85,254.93 276.1,257.14 276.35,259.38 276.6,258.7 276.85,256.5 277.1,254.29 277.35,252.05 277.6,249.79 277.85,247.51 278.1,245.21 278.35,242.88 278.6,240.65 278.85,242.91 279.1,245.2 279.35,247.51 279.6,249.84 279.85,252.19 280.1,254.56 280.35,256.96 280.6,259.38 280.85,259.98 281.1,257.6 281.35,255.21 281.6,252.8 281.85,250.36 282.1,247.91 282.35,245.43 282.6,242.93 282.85,240.41 283.1,241.58 283.35,244.05 283.6,246.54 283.85,249.05 284.1,251.59 284.35,254.14 284.6,256.72 284.85,259.31 285.1,261.39 285.35,258.84 285.6,256.27 285.85,253.68" stroke="#e84a4a" stroke-width="1.05" fill="none"/>
<path d="M197.6,273.48 197.85,272.12 198.1,270.79 198.35,269.48 198.6,268.18 198.85,267.79 199.1,267.83 199.35,267.89 199.6,267.97 199.85,268.07 200.1,268.18 200.35,268.3 200.6,268.45 200.85,268.55 201.1,267.43 201.35,266.32 201.6,265.22 201.85,264.14 202.1,263.07 202.35,262.01 202.6,260.96 202.85,259.93 203.1,259.43 203.35,259.71 203.6,260 203.85,260.31 204.1,260.62 204.35,260.94 204.6,261.28 204.85,261.62 205.1,261.97 205.35,261.33 205.6,260.4 205.85,259.48 206.1,258.56 206.35,257.66 206.6,256.75 206.85,255.86 207.1,254.97 207.35,254.25 207.6,254.67 207.85,255.09 208.1,255.52 208.35,255.96 208.6,256.4 208.85,256.85 209.1,257.3 209.35,257.76 209.6,257.6 209.85,256.77 210.1,255.94 210.35,255.12 210.6,254.31 210.85,253.5 211.1,252.69 211.35,251.88 211.6,251.08 211.85,251.38 212.1,251.85 212.35,252.35 212.6,252.88 212.85,253.46 213.1,254.08 213.35,254.74 213.6,255.44 213.85,255.86 214.1,255.01 214.35,254.12 214.6,253.21 214.85,252.26 215.1,251.27 215.35,250.26 215.6,249.21 215.85,248.12 216.1,248.09 216.35,248.92 216.6,249.78 216.85,250.68 217.1,251.63 217.35,252.61 217.6,253.64 217.85,254.7 218.1,255.8 218.35,254.87 218.6,253.73 218.85,252.56 219.1,251.36 219.35,250.12 219.6,248.85 219.85,247.55 220.1,246.21 220.35,245.57 220.6,246.75 220.85,247.97 221.1,249.23 221.35,250.53 221.6,251.87 221.85,253.25 222.1,254.67 222.35,256.12 222.6,255.76 222.85,254.31 223.1,252.87 223.35,251.42 223.6,249.98 223.85,248.54 224.1,247.11 224.35,245.67 224.6,244.26 224.85,245.69 225.1,247.13 225.35,248.57 225.6,250.02 225.85,251.46 226.1,252.9 226.35,254.35 226.6,255.79 226.85,256.18 227.1,254.76 227.35,253.34 227.6,251.92 227.85,250.49 228.1,249.07 228.35,247.65 228.6,246.24 228.85,244.82 229.1,245.49 229.35,246.94 229.6,248.4 229.85,249.85 230.1,251.31 230.35,252.76 230.6,254.21 230.85,255.67 231.1,256.87 231.35,255.45 231.6,254.04 231.85,252.63 232.1,251.21 232.35,249.8 232.6,248.38 232.85,246.97 233.1,245.56 233.35,245.44 233.6,246.89 233.85,248.35 234.1,249.81 234.35,251.27 234.6,252.73 234.85,254.19 235.1,255.65 235.35,257.11 235.6,256.24 235.85,254.83 236.1,253.42 236.35,252.01 236.6,250.6 236.85,249.19 237.1,247.78 237.35,246.37 237.6,245.46 237.85,246.92 238.1,248.38 238.35,249.84 238.6,251.31 238.85,252.77 239.1,254.23 239.35,255.7 239.6,257.16 239.85,257.1 240.1,255.69 240.35,254.28 240.6,252.88 240.85,251.47 241.1,250.06 241.35,248.66 241.6,247.25 241.85,245.84 242.1,247 242.35,248.46 242.6,249.92 242.85,251.39 243.1,252.85 243.35,254.31 243.6,255.77 243.85,257.23 244.1,257.97 244.35,256.56 244.6,255.15 244.85,253.74 245.1,252.33 245.35,250.91 245.6,249.5 245.85,248.09 246.1,246.67 246.35,247.02 246.6,248.47 246.85,249.93 247.1,251.38 247.35,252.83 247.6,254.28 247.85,255.73 248.1,257.18 248.35,258.63 248.6,257.28 248.85,255.85 249.1,254.43 249.35,253 249.6,251.57 249.85,250.14 250.1,248.71 250.35,247.28 250.6,246.81 250.85,248.25 251.1,249.68 251.35,251.11 251.6,252.55 251.85,253.98 252.1,255.41 252.35,256.84 252.6,258.27 252.85,257.7 253.1,256.25 253.35,254.81 253.6,253.36 253.85,251.91 254.1,250.46 254.35,249.01 254.6,247.56 254.85,246.27 255.1,247.69 255.35,249.1 255.6,250.52 255.85,251.93 256.1,253.35 256.35,254.76 256.6,256.17 256.85,257.58 257.1,257.8 257.35,256.34 257.6,254.88 257.85,253.41 258.1,251.95 258.35,250.49 258.6,249 258.85,247.49 259.1,245.96 259.35,246.7 259.6,248.13 259.85,249.57 260.1,251.04 260.35,252.53 260.6,254.04 260.85,255.57 261.1,257.12 261.35,258.26 261.6,256.7 261.85,255.11 262.1,253.51 262.35,251.88 262.6,250.23 262.85,248.56 263.1,246.87 263.35,245.16 263.6,245.09 263.85,246.69 264.1,248.32 264.35,249.96 264.6,251.63 264.85,253.32 265.1,255.04 265.35,256.77 265.6,258.53 265.85,257.28 266.1,255.53 266.35,253.75 266.6,251.95 266.85,250.13 267.1,248.29 267.35,246.43 267.6,244.54 267.85,243.45 268.1,245.24 268.35,247.05 268.6,248.89 268.85,250.74 269.1,252.62 269.35,254.52 269.6,256.45 269.85,258.39 270.1,258.1 270.35,256.18 270.6,254.23 270.85,252.26 271.1,250.27 271.35,248.26 271.6,246.23 271.85,244.18 272.1,242.1 272.35,243.84 272.6,245.84 272.85,247.86 273.1,249.91 273.35,251.97 273.6,254.06 273.85,256.17 274.1,258.3 274.35,259.17 274.6,257.08 274.85,254.96 275.1,252.82 275.35,250.65 275.6,248.47 275.85,246.27 276.1,244.04 276.35,241.8 276.6,242.47 276.85,244.65 277.1,246.86 277.35,249.09 277.6,251.34 277.85,253.61 278.1,255.91 278.35,258.22 278.6,260.45 278.85,258.18 279.1,255.89 279.35,253.57 279.6,251.24 279.85,248.88 280.1,246.5 280.35,244.1 280.6,241.68 280.85,241.08 281.1,243.44 281.35,245.83 281.6,248.24 281.85,250.68 282.1,253.13 282.35,255.6 282.6,258.1 282.85,260.62 283.1,259.44 283.35,256.97 283.6,254.48 283.85,251.97 284.1,249.43 284.35,246.88 284.6,244.3 284.85,241.7 285.1,239.62 285.35,242.17 285.6,244.74 285.85,247.33" stroke="#3b4a70" stroke-width="1.05" fill="none"/>
<line x1="197.5" y1="195.6" x2="197.5" y2="330" stroke="#000" stroke-width="1.5"/>
<line x1="196.8" y1="329.5" x2="304.6" y2="329.5" stroke="#000" stroke-width="1.5"/>
<rect x="249.3" y="198.8" width="51.8" height="27" fill="#fff" stroke="#000" stroke-width="0.9"/>
<line x1="253.4" y1="205.8" x2="271.5" y2="205.8" stroke="#e07878" stroke-width="1.3"/>
<line x1="253.4" y1="218.6" x2="271.5" y2="218.6" stroke="#6a7a9c" stroke-width="1"/>
<text x="273.9" y="208.3" font-family="Liberation Sans" font-size="7.6" font-weight="bold" fill="#000" textLength="22.5" lengthAdjust="spacingAndGlyphs">[5&#8211;HT]</text>
<text x="297.6" y="210.7" font-family="Liberation Sans" font-size="5" font-weight="bold" fill="#000">1</text>
<text x="273.9" y="221.4" font-family="Liberation Sans" font-size="7.6" font-weight="bold" fill="#000" textLength="22.5" lengthAdjust="spacingAndGlyphs">[5&#8211;HT]</text>
<text x="297.6" y="224" font-family="Liberation Sans" font-size="5" font-weight="bold" fill="#000">2</text>
<text x="329.3" y="187.7" font-family="Liberation Sans" font-size="13" font-weight="bold" fill="#000">F</text>
<text x="358.5" y="211.3" font-family="Liberation Sans" font-size="7.2" font-weight="bold" fill="#000" text-anchor="end">2</text>
<text x="358.5" y="231.3" font-family="Liberation Sans" font-size="7.2" font-weight="bold" fill="#000" text-anchor="end">1.5</text>
<text x="358.5" y="251.3" font-family="Liberation Sans" font-size="7.2" font-weight="bold" fill="#000" text-anchor="end">1</text>
<text x="358.5" y="271.3" font-family="Liberation Sans" font-size="7.2" font-weight="bold" fill="#000" text-anchor="end">0.5</text>
<text x="358.5" y="291.3" font-family="Liberation Sans" font-size="7.2" font-weight="bold" fill="#000" text-anchor="end">0</text>
<text x="358.5" y="311.3" font-family="Liberation Sans" font-size="7.2" font-weight="bold" fill="#000" text-anchor="end">&#8722;0.5</text>
<text x="358.5" y="331.3" font-family="Liberation Sans" font-size="7.2" font-weight="bold" fill="#000" text-anchor="end">&#8722;1</text>
<text x="360.2" y="336.8" font-family="Liberation Sans" font-size="7.2" font-weight="bold" fill="#000" text-anchor="middle">0</text>
<text x="385.56" y="336.8" font-family="Liberation Sans" font-size="7.2" font-weight="bold" fill="#000" text-anchor="middle">10</text>
<text x="410.92" y="336.8" font-family="Liberation Sans" font-size="7.2" font-weight="bold" fill="#000" text-anchor="middle">20</text>
<text x="436.28" y="336.8" font-family="Liberation Sans" font-size="7.2" font-weight="bold" fill="#000" text-anchor="middle">30</text>
<text x="461.64" y="336.8" font-family="Liberation Sans" font-size="7.2" font-weight="bold" fill="#000" text-anchor="middle">40</text>
<text x="487" y="336.8" font-family="Liberation Sans" font-size="7.2" font-weight="bold" fill="#000" text-anchor="middle">50</text>
<text x="400" y="348.7" font-family="Liberation Serif" font-size="12.5" font-weight="normal" font-style="italic" fill="#000" textLength="45.9" lengthAdjust="spacingAndGlyphs">Time<tspan font-style="normal">[</tspan>s<tspan font-style="normal">]</tspan></text>
<g transform="translate(0,0)">
<text transform="translate(330,274.5) rotate(-90)" font-family="Liberation Serif" font-size="9.5" font-style="italic" fill="#000" textLength="10.3" lengthAdjust="spacingAndGlyphs">&#966;<tspan font-size="6" dy="0.8">2</tspan></text>
<text transform="translate(343.6,274.5) rotate(-90)" font-family="Liberation Serif" font-size="9.5" font-style="italic" fill="#000" textLength="10.3" lengthAdjust="spacingAndGlyphs">&#966;<tspan font-size="6" dy="0.8">1</tspan></text>
<line x1="334.8" y1="263.7" x2="334.8" y2="274.5" stroke="#666" stroke-width="0.9"/>
<text transform="translate(338,261.2) rotate(-90)" font-family="Liberation Serif" font-size="11" fill="#000" textLength="9.3" lengthAdjust="spacingAndGlyphs">[1]</text>
</g>
<line x1="360.2" y1="248.7" x2="486.4" y2="248.7" stroke="#000" stroke-width="0.7" stroke-dasharray="3,2.2"/>
<path d="M360.2,303.7 360.7,302.08 361.2,300.51 361.7,298.99 362.2,297.51 362.7,296.07 363.2,294.67 363.7,293.32 364.2,292.01 364.7,290.73 365.2,289.5 365.7,288.3 366.2,287.13 366.7,286 367.2,284.9 367.7,283.84 368.2,282.8 368.7,281.8 369.2,280.82 369.7,279.88 370.2,278.96 370.7,278.07 371.2,277.21 371.7,276.37 372.2,275.55 372.7,274.76 373.2,274 373.7,273.25 374.2,272.53 374.7,271.83 375.2,271.15 375.7,270.49 376.2,269.84 376.7,269.22 377.2,268.62 377.7,268.03 378.2,267.46 378.7,266.91 379.2,266.38 379.7,265.86 380.2,265.35 380.7,264.86 381.2,264.38 381.7,263.92 382.2,263.47 382.7,263.04 383.2,262.62 383.7,262.21 384.2,261.81 384.7,261.42 385.2,261.05 385.7,260.69 386.2,260.33 386.7,259.99 387.2,259.66 387.7,259.34 388.2,259.02 388.7,258.72 389.2,258.43 389.7,258.14 390.2,257.86 390.7,257.59 391.2,257.33 391.7,257.08 392.2,256.83 392.7,256.59 393.2,256.36 393.7,256.13 394.2,255.91 394.7,255.7 395.2,255.5 395.7,255.3 396.2,255.1 396.7,254.91 397.2,254.73 397.7,254.55 398.2,254.38 398.7,254.21 399.2,254.05 399.7,253.89 400.2,253.74 400.7,253.59 401.2,253.45 401.7,253.31 402.2,253.17 402.7,253.04 403.2,252.91 403.7,252.79 404.2,252.67 404.7,252.55 405.2,252.44 405.7,252.33 406.2,252.22 406.7,252.12 407.2,252.02 407.7,251.92 408.2,251.83 408.7,251.73 409.2,251.64 409.7,251.56 410.2,251.47 410.7,251.39 411.2,251.31 411.7,251.24 412.2,251.16 412.7,251.09 413.2,251.02 413.7,250.95 414.2,250.88 414.7,250.82 415.2,250.76 415.7,250.7 416.2,250.64 416.7,250.58 417.2,250.53 417.7,250.47 418.2,250.42 418.7,250.37 419.2,250.32 419.7,250.27 420.2,250.23 420.7,250.18 421.2,250.14 421.7,250.1 422.2,250.05 422.7,250.01 423.2,249.98 423.7,249.94 424.2,249.9 424.7,249.87 425.2,249.83 425.7,249.8 426.2,249.77 426.7,249.73 427.2,249.7 427.7,249.67 428.2,249.65 428.7,249.62 429.2,249.59 429.7,249.57 430.2,249.54 430.7,249.51 431.2,249.49 431.7,249.47 432.2,249.45 432.7,249.42 433.2,249.4 433.7,249.38 434.2,249.36 434.7,249.34 435.2,249.32 435.7,249.3 436.2,249.29 436.7,249.27 437.2,249.25 437.7,249.24 438.2,249.22 438.7,249.21 439.2,249.19 439.7,249.18 440.2,249.16 440.7,249.15 441.2,249.14 441.7,249.12 442.2,249.11 442.7,249.1 443.2,249.09 443.7,249.07 444.2,249.06 444.7,249.05 445.2,249.04 445.7,249.03 446.2,249.02 446.7,249.01 447.2,249 447.7,249 448.2,248.99 448.7,248.98 449.2,248.97 449.7,248.96 450.2,248.95 450.7,248.95 451.2,248.94 451.7,248.93 452.2,248.93 452.7,248.92 453.2,248.91 453.7,248.91 454.2,248.9 454.7,248.89 455.2,248.89 455.7,248.88 456.2,248.88 456.7,248.87 457.2,248.87 457.7,248.86 458.2,248.86 458.7,248.85 459.2,248.85 459.7,248.84 460.2,248.84 460.7,248.84 461.2,248.83 461.7,248.83 462.2,248.82 462.7,248.82 463.2,248.82 463.7,248.81 464.2,248.81 464.7,248.81 465.2,248.8 465.7,248.8 466.2,248.8 466.7,248.79 467.2,248.79 467.7,248.79 468.2,248.79 468.7,248.78 469.2,248.78 469.7,248.78 470.2,248.78 470.7,248.77 471.2,248.77 471.7,248.77 472.2,248.77 472.7,248.77 473.2,248.76 473.7,248.76 474.2,248.76 474.7,248.76 475.2,248.76 475.7,248.76 476.2,248.75 476.7,248.75 477.2,248.75 477.7,248.75 478.2,248.75 478.7,248.75 479.2,248.74 479.7,248.74 480.2,248.74 480.7,248.74 481.2,248.74 481.7,248.74 482.2,248.74 482.7,248.74 483.2,248.74 483.7,248.73 484.2,248.73 484.7,248.73 485.2,248.73 485.7,248.73 486.2,248.73" stroke="#1c2a5a" stroke-width="1.1" fill="none"/>
<path d="M358.7,318.7 a1.9,1.9 0 1,0 3.8,0 a1.9,1.9 0 1,0 -3.8,0 M361,287.6 a1.9,1.9 0 1,0 3.8,0 a1.9,1.9 0 1,0 -3.8,0 M362,282 a1.9,1.9 0 1,0 3.8,0 a1.9,1.9 0 1,0 -3.8,0 M365.3,283 a1.9,1.9 0 1,0 3.8,0 a1.9,1.9 0 1,0 -3.8,0 M364.5,291.9 a1.9,1.9 0 1,0 3.8,0 a1.9,1.9 0 1,0 -3.8,0 M367.9,279.1 a1.9,1.9 0 1,0 3.8,0 a1.9,1.9 0 1,0 -3.8,0 M369.2,274.2 a1.9,1.9 0 1,0 3.8,0 a1.9,1.9 0 1,0 -3.8,0 M372.2,266.7 a1.9,1.9 0 1,0 3.8,0 a1.9,1.9 0 1,0 -3.8,0 M373.2,278.1 a1.9,1.9 0 1,0 3.8,0 a1.9,1.9 0 1,0 -3.8,0 M375.1,272.2 a1.9,1.9 0 1,0 3.8,0 a1.9,1.9 0 1,0 -3.8,0 M376.7,270.6 a1.9,1.9 0 1,0 3.8,0 a1.9,1.9 0 1,0 -3.8,0 M379.7,266.3 a1.9,1.9 0 1,0 3.8,0 a1.9,1.9 0 1,0 -3.8,0 M380.6,278.5 a1.9,1.9 0 1,0 3.8,0 a1.9,1.9 0 1,0 -3.8,0 M383,269.3 a1.9,1.9 0 1,0 3.8,0 a1.9,1.9 0 1,0 -3.8,0 M384.2,268.7 a1.9,1.9 0 1,0 3.8,0 a1.9,1.9 0 1,0 -3.8,0 M386.9,265.3 a1.9,1.9 0 1,0 3.8,0 a1.9,1.9 0 1,0 -3.8,0 M388.5,229.9 a1.9,1.9 0 1,0 3.8,0 a1.9,1.9 0 1,0 -3.8,0 M390.5,262 a1.9,1.9 0 1,0 3.8,0 a1.9,1.9 0 1,0 -3.8,0 M392.4,244.7 a1.9,1.9 0 1,0 3.8,0 a1.9,1.9 0 1,0 -3.8,0 M394,258.4 a1.9,1.9 0 1,0 3.8,0 a1.9,1.9 0 1,0 -3.8,0 M396,241.1 a1.9,1.9 0 1,0 3.8,0 a1.9,1.9 0 1,0 -3.8,0 M398,252.5 a1.9,1.9 0 1,0 3.8,0 a1.9,1.9 0 1,0 -3.8,0 M399.9,248.2 a1.9,1.9 0 1,0 3.8,0 a1.9,1.9 0 1,0 -3.8,0 M401.9,250.2 a1.9,1.9 0 1,0 3.8,0 a1.9,1.9 0 1,0 -3.8,0 M403.6,248.76 a1.9,1.9 0 1,0 3.8,0 a1.9,1.9 0 1,0 -3.8,0 M404.87,247.82 a1.9,1.9 0 1,0 3.8,0 a1.9,1.9 0 1,0 -3.8,0 M406.14,248.28 a1.9,1.9 0 1,0 3.8,0 a1.9,1.9 0 1,0 -3.8,0 M407.41,248.54 a1.9,1.9 0 1,0 3.8,0 a1.9,1.9 0 1,0 -3.8,0 M408.68,249.33 a1.9,1.9 0 1,0 3.8,0 a1.9,1.9 0 1,0 -3.8,0 M409.95,248.83 a1.9,1.9 0 1,0 3.8,0 a1.9,1.9 0 1,0 -3.8,0 M411.22,249.21 a1.9,1.9 0 1,0 3.8,0 a1.9,1.9 0 1,0 -3.8,0 M412.49,248.56 a1.9,1.9 0 1,0 3.8,0 a1.9,1.9 0 1,0 -3.8,0 M413.76,248.18 a1.9,1.9 0 1,0 3.8,0 a1.9,1.9 0 1,0 -3.8,0 M415.03,248.2 a1.9,1.9 0 1,0 3.8,0 a1.9,1.9 0 1,0 -3.8,0 M416.3,249.34 a1.9,1.9 0 1,0 3.8,0 a1.9,1.9 0 1,0 -3.8,0 M417.57,248.93 a1.9,1.9 0 1,0 3.8,0 a1.9,1.9 0 1,0 -3.8,0 M418.84,248.29 a1.9,1.9 0 1,0 3.8,0 a1.9,1.9 0 1,0 -3.8,0 M420.11,247.83 a1.9,1.9 0 1,0 3.8,0 a1.9,1.9 0 1,0 -3.8,0 M421.38,248.6 a1.9,1.9 0 1,0 3.8,0 a1.9,1.9 0 1,0 -3.8,0 M422.65,248.88 a1.9,1.9 0 1,0 3.8,0 a1.9,1.9 0 1,0 -3.8,0 M423.92,248.47 a1.9,1.9 0 1,0 3.8,0 a1.9,1.9 0 1,0 -3.8,0 M425.19,248.21 a1.9,1.9 0 1,0 3.8,0 a1.9,1.9 0 1,0 -3.8,0 M426.46,248.87 a1.9,1.9 0 1,0 3.8,0 a1.9,1.9 0 1,0 -3.8,0 M427.73,249.28 a1.9,1.9 0 1,0 3.8,0 a1.9,1.9 0 1,0 -3.8,0 M429,248.16 a1.9,1.9 0 1,0 3.8,0 a1.9,1.9 0 1,0 -3.8,0 M430.27,247.85 a1.9,1.9 0 1,0 3.8,0 a1.9,1.9 0 1,0 -3.8,0 M431.54,248.34 a1.9,1.9 0 1,0 3.8,0 a1.9,1.9 0 1,0 -3.8,0 M432.81,248.47 a1.9,1.9 0 1,0 3.8,0 a1.9,1.9 0 1,0 -3.8,0 M434.08,248.89 a1.9,1.9 0 1,0 3.8,0 a1.9,1.9 0 1,0 -3.8,0 M435.35,248.12 a1.9,1.9 0 1,0 3.8,0 a1.9,1.9 0 1,0 -3.8,0 M436.62,249.08 a1.9,1.9 0 1,0 3.8,0 a1.9,1.9 0 1,0 -3.8,0 M437.89,248.98 a1.9,1.9 0 1,0 3.8,0 a1.9,1.9 0 1,0 -3.8,0 M439.16,248.61 a1.9,1.9 0 1,0 3.8,0 a1.9,1.9 0 1,0 -3.8,0 M440.43,248.13 a1.9,1.9 0 1,0 3.8,0 a1.9,1.9 0 1,0 -3.8,0 M441.7,249.35 a1.9,1.9 0 1,0 3.8,0 a1.9,1.9 0 1,0 -3.8,0 M442.97,248.3 a1.9,1.9 0 1,0 3.8,0 a1.9,1.9 0 1,0 -3.8,0 M444.24,249.11 a1.9,1.9 0 1,0 3.8,0 a1.9,1.9 0 1,0 -3.8,0 M445.51,248.17 a1.9,1.9 0 1,0 3.8,0 a1.9,1.9 0 1,0 -3.8,0 M446.78,248.15 a1.9,1.9 0 1,0 3.8,0 a1.9,1.9 0 1,0 -3.8,0 M448.05,249.02 a1.9,1.9 0 1,0 3.8,0 a1.9,1.9 0 1,0 -3.8,0 M449.32,248.27 a1.9,1.9 0 1,0 3.8,0 a1.9,1.9 0 1,0 -3.8,0 M450.59,249.32 a1.9,1.9 0 1,0 3.8,0 a1.9,1.9 0 1,0 -3.8,0 M451.86,248.59 a1.9,1.9 0 1,0 3.8,0 a1.9,1.9 0 1,0 -3.8,0 M453.13,248.1 a1.9,1.9 0 1,0 3.8,0 a1.9,1.9 0 1,0 -3.8,0 M454.4,248.16 a1.9,1.9 0 1,0 3.8,0 a1.9,1.9 0 1,0 -3.8,0 M455.67,248.47 a1.9,1.9 0 1,0 3.8,0 a1.9,1.9 0 1,0 -3.8,0 M456.94,248.86 a1.9,1.9 0 1,0 3.8,0 a1.9,1.9 0 1,0 -3.8,0 M458.21,249.32 a1.9,1.9 0 1,0 3.8,0 a1.9,1.9 0 1,0 -3.8,0 M459.48,248.03 a1.9,1.9 0 1,0 3.8,0 a1.9,1.9 0 1,0 -3.8,0 M460.75,248.43 a1.9,1.9 0 1,0 3.8,0 a1.9,1.9 0 1,0 -3.8,0 M462.02,248.14 a1.9,1.9 0 1,0 3.8,0 a1.9,1.9 0 1,0 -3.8,0 M463.29,249.36 a1.9,1.9 0 1,0 3.8,0 a1.9,1.9 0 1,0 -3.8,0 M464.56,248.03 a1.9,1.9 0 1,0 3.8,0 a1.9,1.9 0 1,0 -3.8,0 M465.83,247.88 a1.9,1.9 0 1,0 3.8,0 a1.9,1.9 0 1,0 -3.8,0 M467.1,247.9 a1.9,1.9 0 1,0 3.8,0 a1.9,1.9 0 1,0 -3.8,0 M468.37,248.43 a1.9,1.9 0 1,0 3.8,0 a1.9,1.9 0 1,0 -3.8,0 M469.64,249.24 a1.9,1.9 0 1,0 3.8,0 a1.9,1.9 0 1,0 -3.8,0 M470.91,249.21 a1.9,1.9 0 1,0 3.8,0 a1.9,1.9 0 1,0 -3.8,0 M472.18,248.97 a1.9,1.9 0 1,0 3.8,0 a1.9,1.9 0 1,0 -3.8,0 M473.45,249.4 a1.9,1.9 0 1,0 3.8,0 a1.9,1.9 0 1,0 -3.8,0 M474.72,249.29 a1.9,1.9 0 1,0 3.8,0 a1.9,1.9 0 1,0 -3.8,0 M475.99,248.33 a1.9,1.9 0 1,0 3.8,0 a1.9,1.9 0 1,0 -3.8,0 M477.26,248.1 a1.9,1.9 0 1,0 3.8,0 a1.9,1.9 0 1,0 -3.8,0 M478.53,249.3 a1.9,1.9 0 1,0 3.8,0 a1.9,1.9 0 1,0 -3.8,0 M479.8,248.99 a1.9,1.9 0 1,0 3.8,0 a1.9,1.9 0 1,0 -3.8,0 M481.07,247.85 a1.9,1.9 0 1,0 3.8,0 a1.9,1.9 0 1,0 -3.8,0 M482.34,248.86 a1.9,1.9 0 1,0 3.8,0 a1.9,1.9 0 1,0 -3.8,0 M483.61,248.41 a1.9,1.9 0 1,0 3.8,0 a1.9,1.9 0 1,0 -3.8,0" fill="#e21b1b"/>
<line x1="360.2" y1="199" x2="360.2" y2="327.9" stroke="#000" stroke-width="1.5"/>
<line x1="359.5" y1="327.4" x2="486.4" y2="327.4" stroke="#000" stroke-width="1.5"/>
<rect x="410.6" y="202" width="73.8" height="29" fill="#fff" stroke="#000" stroke-width="0.9"/>
<circle cx="422.8" cy="207.1" r="2" fill="#e21b1b"/>
<text x="433.9" y="209.9" font-family="Liberation Sans" font-size="6.5" font-weight="bold" fill="#000" textLength="14.4" lengthAdjust="spacingAndGlyphs">Data</text>
<line x1="414.3" y1="216" x2="431.9" y2="216" stroke="#3e4e72" stroke-width="1.1"/>
<text x="433.9" y="219" font-family="Liberation Sans" font-size="6.5" font-weight="bold" fill="#000" textLength="48.5" lengthAdjust="spacingAndGlyphs">Exponential fit</text>
<line x1="414.3" y1="225.3" x2="431.9" y2="225.3" stroke="#000" stroke-width="0.8" stroke-dasharray="2.6,3.6"/>
<text x="433.9" y="227.8" font-family="Liberation Sans" font-size="6.5" font-weight="bold" fill="#000" textLength="38.3" lengthAdjust="spacingAndGlyphs">Target ratio</text>
<text x="521" y="188.2" font-family="Liberation Sans" font-size="13" font-weight="bold" fill="#000">G</text>
<text x="550.9" y="214" font-family="Liberation Sans" font-size="7.2" font-weight="bold" fill="#000" text-anchor="end">1.6</text>
<text x="550.9" y="224.7" font-family="Liberation Sans" font-size="7.2" font-weight="bold" fill="#000" text-anchor="end">1.4</text>
<text x="550.9" y="235.4" font-family="Liberation Sans" font-size="7.2" font-weight="bold" fill="#000" text-anchor="end">1.2</text>
<text x="550.9" y="246.1" font-family="Liberation Sans" font-size="7.2" font-weight="bold" fill="#000" text-anchor="end">1</text>
<text x="553.9" y="258.4" font-family="Liberation Sans" font-size="7.2" font-weight="bold" fill="#000" text-anchor="middle">0</text>
<text x="579.5" y="258.4" font-family="Liberation Sans" font-size="7.2" font-weight="bold" fill="#000" text-anchor="middle">2000</text>
<text x="605.1" y="258.4" font-family="Liberation Sans" font-size="7.2" font-weight="bold" fill="#000" text-anchor="middle">4000</text>
<text x="630.9" y="258.4" font-family="Liberation Sans" font-size="7.2" font-weight="bold" fill="#000" text-anchor="middle">6000</text>
<text x="656.5" y="258.4" font-family="Liberation Sans" font-size="7.2" font-weight="bold" fill="#000" text-anchor="middle">8000</text>
<text x="682.4" y="258.4" font-family="Liberation Sans" font-size="7.2" font-weight="bold" fill="#000" text-anchor="middle">10000</text>
<line x1="554" y1="243.5" x2="683.4" y2="243.5" stroke="#000" stroke-width="0.7" stroke-dasharray="3,2.2"/>
<path d="M554,200.64 554.5,201.31 555,201.97 555.5,202.62 556,203.26 556.5,203.89 557,204.51 557.5,205.11 558,205.71 558.5,206.29 559,206.87 559.5,207.43 560,207.99 560.5,208.53 561,209.07 561.5,209.59 562,210.11 562.5,210.61 563,211.11 563.5,211.6 564,212.08 564.5,212.56 565,213.02 565.5,213.48 566,213.93 566.5,214.37 567,214.8 567.5,215.23 568,215.65 568.5,216.06 569,216.46 569.5,216.86 570,217.25 570.5,217.63 571,218.01 571.5,218.38 572,218.75 572.5,219.1 573,219.46 573.5,219.8 574,220.14 574.5,220.48 575,220.81 575.5,221.13 576,221.45 576.5,221.76 577,222.07 577.5,222.37 578,222.67 578.5,222.96 579,223.24 579.5,223.53 580,223.8 580.5,224.08 581,224.35 581.5,224.61 582,224.87 582.5,225.12 583,225.38 583.5,225.62 584,225.87 584.5,226.1 585,226.34 585.5,226.57 586,226.8 586.5,227.02 587,227.24 587.5,227.46 588,227.67 588.5,227.88 589,228.09 589.5,228.29 590,228.49 590.5,228.69 591,228.88 591.5,229.07 592,229.26 592.5,229.44 593,229.62 593.5,229.8 594,229.98 594.5,230.15 595,230.32 595.5,230.49 596,230.65 596.5,230.81 597,230.97 597.5,231.13 598,231.28 598.5,231.44 599,231.59 599.5,231.73 600,231.88 600.5,232.02 601,232.16 601.5,232.3 602,232.44 602.5,232.57 603,232.71 603.5,232.84 604,232.96 604.5,233.09 605,233.22 605.5,233.34 606,233.46 606.5,233.58 607,233.7 607.5,233.81 608,233.93 608.5,234.04 609,234.15 609.5,234.26 610,234.36 610.5,234.47 611,234.57 611.5,234.68 612,234.78 612.5,234.88 613,234.98 613.5,235.07 614,235.17 614.5,235.26 615,235.36 615.5,235.45 616,235.54 616.5,235.63 617,235.71 617.5,235.8 618,235.88 618.5,235.97 619,236.05 619.5,236.13 620,236.21 620.5,236.29 621,236.37 621.5,236.45 622,236.52 622.5,236.6 623,236.67 623.5,236.75 624,236.82 624.5,236.89 625,236.96 625.5,237.03 626,237.1 626.5,237.16 627,237.23 627.5,237.3 628,237.36 628.5,237.42 629,237.49 629.5,237.55 630,237.61 630.5,237.67 631,237.73 631.5,237.79 632,237.85 632.5,237.91 633,237.96 633.5,238.02 634,238.07 634.5,238.13 635,238.18 635.5,238.24 636,238.29 636.5,238.34 637,238.39 637.5,238.44 638,238.49 638.5,238.54 639,238.59 639.5,238.64 640,238.69 640.5,238.73 641,238.78 641.5,238.83 642,238.87 642.5,238.92 643,238.96 643.5,239 644,239.05 644.5,239.09 645,239.13 645.5,239.17 646,239.21 646.5,239.25 647,239.29 647.5,239.33 648,239.37 648.5,239.41 649,239.45 649.5,239.49 650,239.53 650.5,239.56 651,239.6 651.5,239.64 652,239.67 652.5,239.71 653,239.74 653.5,239.78 654,239.81 654.5,239.85 655,239.88 655.5,239.91 656,239.94 656.5,239.98 657,240.01 657.5,240.04 658,240.07 658.5,240.1 659,240.13 659.5,240.16 660,240.19 660.5,240.22 661,240.25 661.5,240.28 662,240.31 662.5,240.34 663,240.37 663.5,240.4 664,240.42 664.5,240.45 665,240.48 665.5,240.5 666,240.53 666.5,240.56 667,240.58 667.5,240.61 668,240.63 668.5,240.66 669,240.68 669.5,240.71 670,240.73 670.5,240.76 671,240.78 671.5,240.8 672,240.83 672.5,240.85 673,240.87 673.5,240.9 674,240.92 674.5,240.94 675,240.96 675.5,240.99 676,241.01 676.5,241.03 677,241.05 677.5,241.07 678,241.09 678.5,241.11 679,241.13 679.5,241.15 680,241.17 680.5,241.19 681,241.21 681.5,241.23 682,241.25 682.5,241.27" stroke="#c81414" stroke-width="4.3" fill="none" stroke-linecap="round"/>
<path d="M554,200.64 554.5,201.31 555,201.97 555.5,202.62 556,203.26 556.5,203.89 557,204.51 557.5,205.11 558,205.71 558.5,206.29 559,206.87 559.5,207.43 560,207.99 560.5,208.53 561,209.07 561.5,209.59 562,210.11 562.5,210.61 563,211.11 563.5,211.6 564,212.08 564.5,212.56 565,213.02 565.5,213.48 566,213.93 566.5,214.37 567,214.8 567.5,215.23 568,215.65 568.5,216.06 569,216.46 569.5,216.86 570,217.25 570.5,217.63 571,218.01 571.5,218.38 572,218.75 572.5,219.1 573,219.46 573.5,219.8 574,220.14 574.5,220.48 575,220.81 575.5,221.13 576,221.45 576.5,221.76 577,222.07 577.5,222.37 578,222.67 578.5,222.96 579,223.24 579.5,223.53 580,223.8 580.5,224.08 581,224.35 581.5,224.61 582,224.87 582.5,225.12 583,225.38 583.5,225.62 584,225.87 584.5,226.1 585,226.34 585.5,226.57 586,226.8 586.5,227.02 587,227.24 587.5,227.46 588,227.67 588.5,227.88 589,228.09 589.5,228.29 590,228.49 590.5,228.69 591,228.88 591.5,229.07 592,229.26 592.5,229.44 593,229.62 593.5,229.8 594,229.98 594.5,230.15 595,230.32 595.5,230.49 596,230.65 596.5,230.81 597,230.97 597.5,231.13 598,231.28 598.5,231.44 599,231.59 599.5,231.73 600,231.88 600.5,232.02 601,232.16 601.5,232.3 602,232.44 602.5,232.57 603,232.71 603.5,232.84 604,232.96 604.5,233.09 605,233.22 605.5,233.34 606,233.46 606.5,233.58 607,233.7 607.5,233.81 608,233.93 608.5,234.04 609,234.15 609.5,234.26 610,234.36 610.5,234.47 611,234.57 611.5,234.68 612,234.78 612.5,234.88 613,234.98 613.5,235.07 614,235.17 614.5,235.26 615,235.36 615.5,235.45 616,235.54 616.5,235.63 617,235.71 617.5,235.8 618,235.88 618.5,235.97 619,236.05 619.5,236.13 620,236.21 620.5,236.29 621,236.37 621.5,236.45 622,236.52 622.5,236.6 623,236.67 623.5,236.75 624,236.82 624.5,236.89 625,236.96 625.5,237.03 626,237.1 626.5,237.16 627,237.23 627.5,237.3 628,237.36 628.5,237.42 629,237.49 629.5,237.55 630,237.61 630.5,237.67 631,237.73 631.5,237.79 632,237.85 632.5,237.91 633,237.96 633.5,238.02 634,238.07 634.5,238.13 635,238.18 635.5,238.24 636,238.29 636.5,238.34 637,238.39 637.5,238.44 638,238.49 638.5,238.54 639,238.59 639.5,238.64 640,238.69 640.5,238.73 641,238.78 641.5,238.83 642,238.87 642.5,238.92 643,238.96 643.5,239 644,239.05 644.5,239.09 645,239.13 645.5,239.17 646,239.21 646.5,239.25 647,239.29 647.5,239.33 648,239.37 648.5,239.41 649,239.45 649.5,239.49 650,239.53 650.5,239.56 651,239.6 651.5,239.64 652,239.67 652.5,239.71 653,239.74 653.5,239.78 654,239.81 654.5,239.85 655,239.88 655.5,239.91 656,239.94 656.5,239.98 657,240.01 657.5,240.04 658,240.07 658.5,240.1 659,240.13 659.5,240.16 660,240.19 660.5,240.22 661,240.25 661.5,240.28 662,240.31 662.5,240.34 663,240.37 663.5,240.4 664,240.42 664.5,240.45 665,240.48 665.5,240.5 666,240.53 666.5,240.56 667,240.58 667.5,240.61 668,240.63 668.5,240.66 669,240.68 669.5,240.71 670,240.73 670.5,240.76 671,240.78 671.5,240.8 672,240.83 672.5,240.85 673,240.87 673.5,240.9 674,240.92 674.5,240.94 675,240.96 675.5,240.99 676,241.01 676.5,241.03 677,241.05 677.5,241.07 678,241.09 678.5,241.11 679,241.13 679.5,241.15 680,241.17 680.5,241.19 681,241.21 681.5,241.23 682,241.25 682.5,241.27" stroke="#3a0a10" stroke-width="0.9" fill="none"/>
<line x1="553.9" y1="199.5" x2="553.9" y2="248.9" stroke="#333" stroke-width="1.5"/>
<line x1="553.2" y1="248.3" x2="683.4" y2="248.3" stroke="#000" stroke-width="1.5"/>
<text transform="translate(524.2,247.7) rotate(-90)" font-family="Liberation Serif" font-size="9.5" font-style="italic" fill="#000" textLength="31.9" lengthAdjust="spacingAndGlyphs">w<tspan font-size="7" dy="1.6">STDP,1</tspan></text>
<text transform="translate(537.1,247.7) rotate(-90)" font-family="Liberation Serif" font-size="9.5" font-style="italic" fill="#000" textLength="34.3" lengthAdjust="spacingAndGlyphs">w<tspan font-size="7" dy="1.6">STDP,2</tspan></text>
<line x1="527.6" y1="211.8" x2="527.6" y2="247" stroke="#555" stroke-width="0.9"/>
<text transform="translate(530.6,209.4) rotate(-90)" font-family="Liberation Serif" font-size="10" fill="#000" textLength="9.6" lengthAdjust="spacingAndGlyphs">[1]</text>
<text x="521" y="273.5" font-family="Liberation Sans" font-size="13" font-weight="bold" fill="#000">H</text>
<text x="551.1" y="281.4" font-family="Liberation Sans" font-size="7.2" font-weight="bold" fill="#000" text-anchor="end">2.5</text>
<text x="551.1" y="296.7" font-family="Liberation Sans" font-size="7.2" font-weight="bold" fill="#000" text-anchor="end">2</text>
<text x="551.1" y="312" font-family="Liberation Sans" font-size="7.2" font-weight="bold" fill="#000" text-anchor="end">1.5</text>
<text x="551.1" y="327.3" font-family="Liberation Sans" font-size="7.2" font-weight="bold" fill="#000" text-anchor="end">1</text>
<text x="553.7" y="337.4" font-family="Liberation Sans" font-size="7.2" font-weight="bold" fill="#000" text-anchor="middle">0</text>
<text x="579.45" y="337.4" font-family="Liberation Sans" font-size="7.2" font-weight="bold" fill="#000" text-anchor="middle">5</text>
<text x="605.2" y="337.4" font-family="Liberation Sans" font-size="7.2" font-weight="bold" fill="#000" text-anchor="middle">10</text>
<text x="630.95" y="337.4" font-family="Liberation Sans" font-size="7.2" font-weight="bold" fill="#000" text-anchor="middle">15</text>
<text x="656.7" y="337.4" font-family="Liberation Sans" font-size="7.2" font-weight="bold" fill="#000" text-anchor="middle">20</text>
<text x="682.45" y="337.4" font-family="Liberation Sans" font-size="7.2" font-weight="bold" fill="#000" text-anchor="middle">25</text>
<text x="594.7" y="348.6" font-family="Liberation Serif" font-size="12.5" font-weight="normal" font-style="italic" fill="#000" textLength="46" lengthAdjust="spacingAndGlyphs">Time<tspan font-style="normal">[</tspan>s<tspan font-style="normal">]</tspan></text>
<line x1="554" y1="323.9" x2="683" y2="323.9" stroke="#000" stroke-width="0.7" stroke-dasharray="3,2.2"/>
<path d="M552.4,278.8 a1.9,1.9 0 1,0 3.8,0 a1.9,1.9 0 1,0 -3.8,0 M552.7,281 a1.9,1.9 0 1,0 3.8,0 a1.9,1.9 0 1,0 -3.8,0 M553.1,284 a1.9,1.9 0 1,0 3.8,0 a1.9,1.9 0 1,0 -3.8,0 M553.4,287 a1.9,1.9 0 1,0 3.8,0 a1.9,1.9 0 1,0 -3.8,0 M553.7,290 a1.9,1.9 0 1,0 3.8,0 a1.9,1.9 0 1,0 -3.8,0 M554.1,292.5 a1.9,1.9 0 1,0 3.8,0 a1.9,1.9 0 1,0 -3.8,0 M554.6,289 a1.9,1.9 0 1,0 3.8,0 a1.9,1.9 0 1,0 -3.8,0 M555.1,293 a1.9,1.9 0 1,0 3.8,0 a1.9,1.9 0 1,0 -3.8,0 M552.9,291 a1.9,1.9 0 1,0 3.8,0 a1.9,1.9 0 1,0 -3.8,0 M553.6,294 a1.9,1.9 0 1,0 3.8,0 a1.9,1.9 0 1,0 -3.8,0 M553.65,286.22 a1.9,1.9 0 1,0 3.8,0 a1.9,1.9 0 1,0 -3.8,0 M554.1,289.18 a1.9,1.9 0 1,0 3.8,0 a1.9,1.9 0 1,0 -3.8,0 M554.55,290.69 a1.9,1.9 0 1,0 3.8,0 a1.9,1.9 0 1,0 -3.8,0 M555,295.32 a1.9,1.9 0 1,0 3.8,0 a1.9,1.9 0 1,0 -3.8,0 M555.45,291.37 a1.9,1.9 0 1,0 3.8,0 a1.9,1.9 0 1,0 -3.8,0 M555.9,297.06 a1.9,1.9 0 1,0 3.8,0 a1.9,1.9 0 1,0 -3.8,0 M556.35,293.79 a1.9,1.9 0 1,0 3.8,0 a1.9,1.9 0 1,0 -3.8,0 M556.8,295.49 a1.9,1.9 0 1,0 3.8,0 a1.9,1.9 0 1,0 -3.8,0 M557.25,298.71 a1.9,1.9 0 1,0 3.8,0 a1.9,1.9 0 1,0 -3.8,0 M557.7,299.49 a1.9,1.9 0 1,0 3.8,0 a1.9,1.9 0 1,0 -3.8,0 M558.15,298.37 a1.9,1.9 0 1,0 3.8,0 a1.9,1.9 0 1,0 -3.8,0 M558.6,297.37 a1.9,1.9 0 1,0 3.8,0 a1.9,1.9 0 1,0 -3.8,0 M559.05,300.1 a1.9,1.9 0 1,0 3.8,0 a1.9,1.9 0 1,0 -3.8,0 M559.5,300.38 a1.9,1.9 0 1,0 3.8,0 a1.9,1.9 0 1,0 -3.8,0 M559.95,303.47 a1.9,1.9 0 1,0 3.8,0 a1.9,1.9 0 1,0 -3.8,0 M560.4,301.03 a1.9,1.9 0 1,0 3.8,0 a1.9,1.9 0 1,0 -3.8,0 M560.85,302.43 a1.9,1.9 0 1,0 3.8,0 a1.9,1.9 0 1,0 -3.8,0 M561.3,305.26 a1.9,1.9 0 1,0 3.8,0 a1.9,1.9 0 1,0 -3.8,0 M561.75,302.39 a1.9,1.9 0 1,0 3.8,0 a1.9,1.9 0 1,0 -3.8,0 M562.2,304.52 a1.9,1.9 0 1,0 3.8,0 a1.9,1.9 0 1,0 -3.8,0 M562.65,306.67 a1.9,1.9 0 1,0 3.8,0 a1.9,1.9 0 1,0 -3.8,0 M563.1,307.05 a1.9,1.9 0 1,0 3.8,0 a1.9,1.9 0 1,0 -3.8,0 M563.55,304.87 a1.9,1.9 0 1,0 3.8,0 a1.9,1.9 0 1,0 -3.8,0 M564,305.41 a1.9,1.9 0 1,0 3.8,0 a1.9,1.9 0 1,0 -3.8,0 M564.45,306.05 a1.9,1.9 0 1,0 3.8,0 a1.9,1.9 0 1,0 -3.8,0 M564.9,309.66 a1.9,1.9 0 1,0 3.8,0 a1.9,1.9 0 1,0 -3.8,0 M565.35,307.78 a1.9,1.9 0 1,0 3.8,0 a1.9,1.9 0 1,0 -3.8,0 M565.8,309.99 a1.9,1.9 0 1,0 3.8,0 a1.9,1.9 0 1,0 -3.8,0 M566.25,310.97 a1.9,1.9 0 1,0 3.8,0 a1.9,1.9 0 1,0 -3.8,0 M566.7,309.48 a1.9,1.9 0 1,0 3.8,0 a1.9,1.9 0 1,0 -3.8,0 M567.15,309.69 a1.9,1.9 0 1,0 3.8,0 a1.9,1.9 0 1,0 -3.8,0 M567.6,312.44 a1.9,1.9 0 1,0 3.8,0 a1.9,1.9 0 1,0 -3.8,0 M568.05,311.69 a1.9,1.9 0 1,0 3.8,0 a1.9,1.9 0 1,0 -3.8,0 M568.5,310.9 a1.9,1.9 0 1,0 3.8,0 a1.9,1.9 0 1,0 -3.8,0 M568.95,312.8 a1.9,1.9 0 1,0 3.8,0 a1.9,1.9 0 1,0 -3.8,0 M569.4,311.85 a1.9,1.9 0 1,0 3.8,0 a1.9,1.9 0 1,0 -3.8,0 M569.85,312.09 a1.9,1.9 0 1,0 3.8,0 a1.9,1.9 0 1,0 -3.8,0 M570.3,311.56 a1.9,1.9 0 1,0 3.8,0 a1.9,1.9 0 1,0 -3.8,0 M570.75,314.34 a1.9,1.9 0 1,0 3.8,0 a1.9,1.9 0 1,0 -3.8,0 M571.2,315.19 a1.9,1.9 0 1,0 3.8,0 a1.9,1.9 0 1,0 -3.8,0 M571.65,314.6 a1.9,1.9 0 1,0 3.8,0 a1.9,1.9 0 1,0 -3.8,0 M572.1,315.89 a1.9,1.9 0 1,0 3.8,0 a1.9,1.9 0 1,0 -3.8,0 M572.55,313.28 a1.9,1.9 0 1,0 3.8,0 a1.9,1.9 0 1,0 -3.8,0 M573,314.24 a1.9,1.9 0 1,0 3.8,0 a1.9,1.9 0 1,0 -3.8,0 M573.45,315.29 a1.9,1.9 0 1,0 3.8,0 a1.9,1.9 0 1,0 -3.8,0 M573.9,317.08 a1.9,1.9 0 1,0 3.8,0 a1.9,1.9 0 1,0 -3.8,0 M574.35,317.33 a1.9,1.9 0 1,0 3.8,0 a1.9,1.9 0 1,0 -3.8,0 M574.8,315.82 a1.9,1.9 0 1,0 3.8,0 a1.9,1.9 0 1,0 -3.8,0 M575.25,315.65 a1.9,1.9 0 1,0 3.8,0 a1.9,1.9 0 1,0 -3.8,0 M575.7,316.45 a1.9,1.9 0 1,0 3.8,0 a1.9,1.9 0 1,0 -3.8,0 M576.15,316.89 a1.9,1.9 0 1,0 3.8,0 a1.9,1.9 0 1,0 -3.8,0 M576.6,318.46 a1.9,1.9 0 1,0 3.8,0 a1.9,1.9 0 1,0 -3.8,0 M577.05,316.39 a1.9,1.9 0 1,0 3.8,0 a1.9,1.9 0 1,0 -3.8,0 M577.5,318.51 a1.9,1.9 0 1,0 3.8,0 a1.9,1.9 0 1,0 -3.8,0 M577.95,318.53 a1.9,1.9 0 1,0 3.8,0 a1.9,1.9 0 1,0 -3.8,0 M578.4,318.99 a1.9,1.9 0 1,0 3.8,0 a1.9,1.9 0 1,0 -3.8,0 M578.85,319.03 a1.9,1.9 0 1,0 3.8,0 a1.9,1.9 0 1,0 -3.8,0 M579.3,318.72 a1.9,1.9 0 1,0 3.8,0 a1.9,1.9 0 1,0 -3.8,0 M579.75,318.05 a1.9,1.9 0 1,0 3.8,0 a1.9,1.9 0 1,0 -3.8,0 M580.2,318.21 a1.9,1.9 0 1,0 3.8,0 a1.9,1.9 0 1,0 -3.8,0 M580.65,318.51 a1.9,1.9 0 1,0 3.8,0 a1.9,1.9 0 1,0 -3.8,0 M581.1,319.97 a1.9,1.9 0 1,0 3.8,0 a1.9,1.9 0 1,0 -3.8,0 M581.55,317.99 a1.9,1.9 0 1,0 3.8,0 a1.9,1.9 0 1,0 -3.8,0 M582,318.51 a1.9,1.9 0 1,0 3.8,0 a1.9,1.9 0 1,0 -3.8,0 M582.45,320.36 a1.9,1.9 0 1,0 3.8,0 a1.9,1.9 0 1,0 -3.8,0 M582.9,318.98 a1.9,1.9 0 1,0 3.8,0 a1.9,1.9 0 1,0 -3.8,0 M583.35,318.57 a1.9,1.9 0 1,0 3.8,0 a1.9,1.9 0 1,0 -3.8,0 M583.8,318.62 a1.9,1.9 0 1,0 3.8,0 a1.9,1.9 0 1,0 -3.8,0 M584.25,320.33 a1.9,1.9 0 1,0 3.8,0 a1.9,1.9 0 1,0 -3.8,0 M584.7,319.78 a1.9,1.9 0 1,0 3.8,0 a1.9,1.9 0 1,0 -3.8,0 M585.15,321.89 a1.9,1.9 0 1,0 3.8,0 a1.9,1.9 0 1,0 -3.8,0 M585.6,321.72 a1.9,1.9 0 1,0 3.8,0 a1.9,1.9 0 1,0 -3.8,0 M586.05,322.16 a1.9,1.9 0 1,0 3.8,0 a1.9,1.9 0 1,0 -3.8,0 M586.5,320.09 a1.9,1.9 0 1,0 3.8,0 a1.9,1.9 0 1,0 -3.8,0 M586.95,319.66 a1.9,1.9 0 1,0 3.8,0 a1.9,1.9 0 1,0 -3.8,0 M587.4,319.81 a1.9,1.9 0 1,0 3.8,0 a1.9,1.9 0 1,0 -3.8,0 M587.85,321.14 a1.9,1.9 0 1,0 3.8,0 a1.9,1.9 0 1,0 -3.8,0 M588.3,321.88 a1.9,1.9 0 1,0 3.8,0 a1.9,1.9 0 1,0 -3.8,0 M588.75,321.19 a1.9,1.9 0 1,0 3.8,0 a1.9,1.9 0 1,0 -3.8,0 M589.2,320.65 a1.9,1.9 0 1,0 3.8,0 a1.9,1.9 0 1,0 -3.8,0 M589.65,321.29 a1.9,1.9 0 1,0 3.8,0 a1.9,1.9 0 1,0 -3.8,0 M590.1,322 a1.9,1.9 0 1,0 3.8,0 a1.9,1.9 0 1,0 -3.8,0 M590.55,322.25 a1.9,1.9 0 1,0 3.8,0 a1.9,1.9 0 1,0 -3.8,0 M591,322.56 a1.9,1.9 0 1,0 3.8,0 a1.9,1.9 0 1,0 -3.8,0 M591.45,322.95 a1.9,1.9 0 1,0 3.8,0 a1.9,1.9 0 1,0 -3.8,0 M591.9,322.48 a1.9,1.9 0 1,0 3.8,0 a1.9,1.9 0 1,0 -3.8,0 M592.35,320.93 a1.9,1.9 0 1,0 3.8,0 a1.9,1.9 0 1,0 -3.8,0 M592.8,323.17 a1.9,1.9 0 1,0 3.8,0 a1.9,1.9 0 1,0 -3.8,0 M593.25,321.6 a1.9,1.9 0 1,0 3.8,0 a1.9,1.9 0 1,0 -3.8,0 M593.7,322.5 a1.9,1.9 0 1,0 3.8,0 a1.9,1.9 0 1,0 -3.8,0 M594.15,321.98 a1.9,1.9 0 1,0 3.8,0 a1.9,1.9 0 1,0 -3.8,0 M594.6,323.15 a1.9,1.9 0 1,0 3.8,0 a1.9,1.9 0 1,0 -3.8,0 M595.05,321.6 a1.9,1.9 0 1,0 3.8,0 a1.9,1.9 0 1,0 -3.8,0 M595.5,321.81 a1.9,1.9 0 1,0 3.8,0 a1.9,1.9 0 1,0 -3.8,0 M595.95,321.87 a1.9,1.9 0 1,0 3.8,0 a1.9,1.9 0 1,0 -3.8,0 M596.4,321.65 a1.9,1.9 0 1,0 3.8,0 a1.9,1.9 0 1,0 -3.8,0 M596.85,323.91 a1.9,1.9 0 1,0 3.8,0 a1.9,1.9 0 1,0 -3.8,0 M597.3,323.04 a1.9,1.9 0 1,0 3.8,0 a1.9,1.9 0 1,0 -3.8,0 M597.75,322.34 a1.9,1.9 0 1,0 3.8,0 a1.9,1.9 0 1,0 -3.8,0 M598.2,322.61 a1.9,1.9 0 1,0 3.8,0 a1.9,1.9 0 1,0 -3.8,0 M598.65,324.45 a1.9,1.9 0 1,0 3.8,0 a1.9,1.9 0 1,0 -3.8,0 M599.1,323.05 a1.9,1.9 0 1,0 3.8,0 a1.9,1.9 0 1,0 -3.8,0 M599.55,322.27 a1.9,1.9 0 1,0 3.8,0 a1.9,1.9 0 1,0 -3.8,0 M600,324.05 a1.9,1.9 0 1,0 3.8,0 a1.9,1.9 0 1,0 -3.8,0 M600.45,323.63 a1.9,1.9 0 1,0 3.8,0 a1.9,1.9 0 1,0 -3.8,0 M600.9,324.69 a1.9,1.9 0 1,0 3.8,0 a1.9,1.9 0 1,0 -3.8,0 M601.35,322.06 a1.9,1.9 0 1,0 3.8,0 a1.9,1.9 0 1,0 -3.8,0 M601.8,323.23 a1.9,1.9 0 1,0 3.8,0 a1.9,1.9 0 1,0 -3.8,0 M602.25,324.3 a1.9,1.9 0 1,0 3.8,0 a1.9,1.9 0 1,0 -3.8,0 M602.7,324.41 a1.9,1.9 0 1,0 3.8,0 a1.9,1.9 0 1,0 -3.8,0 M603.15,324.67 a1.9,1.9 0 1,0 3.8,0 a1.9,1.9 0 1,0 -3.8,0 M603.6,322.08 a1.9,1.9 0 1,0 3.8,0 a1.9,1.9 0 1,0 -3.8,0 M604.05,322.88 a1.9,1.9 0 1,0 3.8,0 a1.9,1.9 0 1,0 -3.8,0 M604.5,322.39 a1.9,1.9 0 1,0 3.8,0 a1.9,1.9 0 1,0 -3.8,0 M604.95,322.64 a1.9,1.9 0 1,0 3.8,0 a1.9,1.9 0 1,0 -3.8,0 M605.4,325.02 a1.9,1.9 0 1,0 3.8,0 a1.9,1.9 0 1,0 -3.8,0 M605.85,323.88 a1.9,1.9 0 1,0 3.8,0 a1.9,1.9 0 1,0 -3.8,0 M606.3,324.96 a1.9,1.9 0 1,0 3.8,0 a1.9,1.9 0 1,0 -3.8,0 M606.75,323.31 a1.9,1.9 0 1,0 3.8,0 a1.9,1.9 0 1,0 -3.8,0 M607.2,324.82 a1.9,1.9 0 1,0 3.8,0 a1.9,1.9 0 1,0 -3.8,0 M607.65,323.6 a1.9,1.9 0 1,0 3.8,0 a1.9,1.9 0 1,0 -3.8,0 M608.1,323.06 a1.9,1.9 0 1,0 3.8,0 a1.9,1.9 0 1,0 -3.8,0 M608.55,324.64 a1.9,1.9 0 1,0 3.8,0 a1.9,1.9 0 1,0 -3.8,0 M609,325.17 a1.9,1.9 0 1,0 3.8,0 a1.9,1.9 0 1,0 -3.8,0 M609.45,322.68 a1.9,1.9 0 1,0 3.8,0 a1.9,1.9 0 1,0 -3.8,0 M609.9,324.18 a1.9,1.9 0 1,0 3.8,0 a1.9,1.9 0 1,0 -3.8,0 M610.35,324.27 a1.9,1.9 0 1,0 3.8,0 a1.9,1.9 0 1,0 -3.8,0 M610.8,323.09 a1.9,1.9 0 1,0 3.8,0 a1.9,1.9 0 1,0 -3.8,0 M611.25,323.56 a1.9,1.9 0 1,0 3.8,0 a1.9,1.9 0 1,0 -3.8,0 M611.7,322.9 a1.9,1.9 0 1,0 3.8,0 a1.9,1.9 0 1,0 -3.8,0 M612.15,323.11 a1.9,1.9 0 1,0 3.8,0 a1.9,1.9 0 1,0 -3.8,0 M612.6,323.29 a1.9,1.9 0 1,0 3.8,0 a1.9,1.9 0 1,0 -3.8,0 M613.05,324.34 a1.9,1.9 0 1,0 3.8,0 a1.9,1.9 0 1,0 -3.8,0 M613.5,324.52 a1.9,1.9 0 1,0 3.8,0 a1.9,1.9 0 1,0 -3.8,0 M613.95,323.19 a1.9,1.9 0 1,0 3.8,0 a1.9,1.9 0 1,0 -3.8,0 M614.4,322.63 a1.9,1.9 0 1,0 3.8,0 a1.9,1.9 0 1,0 -3.8,0 M614.85,323.6 a1.9,1.9 0 1,0 3.8,0 a1.9,1.9 0 1,0 -3.8,0 M615.3,324.67 a1.9,1.9 0 1,0 3.8,0 a1.9,1.9 0 1,0 -3.8,0 M615.75,323.21 a1.9,1.9 0 1,0 3.8,0 a1.9,1.9 0 1,0 -3.8,0 M616.2,323.6 a1.9,1.9 0 1,0 3.8,0 a1.9,1.9 0 1,0 -3.8,0 M616.65,323.29 a1.9,1.9 0 1,0 3.8,0 a1.9,1.9 0 1,0 -3.8,0 M617.1,325.08 a1.9,1.9 0 1,0 3.8,0 a1.9,1.9 0 1,0 -3.8,0 M617.55,324.36 a1.9,1.9 0 1,0 3.8,0 a1.9,1.9 0 1,0 -3.8,0 M618,322.92 a1.9,1.9 0 1,0 3.8,0 a1.9,1.9 0 1,0 -3.8,0 M618.45,323.05 a1.9,1.9 0 1,0 3.8,0 a1.9,1.9 0 1,0 -3.8,0 M618.9,324.72 a1.9,1.9 0 1,0 3.8,0 a1.9,1.9 0 1,0 -3.8,0 M619.35,323.76 a1.9,1.9 0 1,0 3.8,0 a1.9,1.9 0 1,0 -3.8,0 M619.8,325.13 a1.9,1.9 0 1,0 3.8,0 a1.9,1.9 0 1,0 -3.8,0 M620.25,324.28 a1.9,1.9 0 1,0 3.8,0 a1.9,1.9 0 1,0 -3.8,0 M620.7,325.8 a1.9,1.9 0 1,0 3.8,0 a1.9,1.9 0 1,0 -3.8,0 M621.15,324.99 a1.9,1.9 0 1,0 3.8,0 a1.9,1.9 0 1,0 -3.8,0 M621.6,324.71 a1.9,1.9 0 1,0 3.8,0 a1.9,1.9 0 1,0 -3.8,0 M622.05,326.03 a1.9,1.9 0 1,0 3.8,0 a1.9,1.9 0 1,0 -3.8,0 M622.5,324.31 a1.9,1.9 0 1,0 3.8,0 a1.9,1.9 0 1,0 -3.8,0 M622.95,324.37 a1.9,1.9 0 1,0 3.8,0 a1.9,1.9 0 1,0 -3.8,0 M623.4,325.95 a1.9,1.9 0 1,0 3.8,0 a1.9,1.9 0 1,0 -3.8,0 M623.85,325.81 a1.9,1.9 0 1,0 3.8,0 a1.9,1.9 0 1,0 -3.8,0 M624.3,325.99 a1.9,1.9 0 1,0 3.8,0 a1.9,1.9 0 1,0 -3.8,0 M624.75,324.44 a1.9,1.9 0 1,0 3.8,0 a1.9,1.9 0 1,0 -3.8,0 M625.2,325.33 a1.9,1.9 0 1,0 3.8,0 a1.9,1.9 0 1,0 -3.8,0 M625.65,326.16 a1.9,1.9 0 1,0 3.8,0 a1.9,1.9 0 1,0 -3.8,0 M626.1,325.56 a1.9,1.9 0 1,0 3.8,0 a1.9,1.9 0 1,0 -3.8,0 M626.55,325.33 a1.9,1.9 0 1,0 3.8,0 a1.9,1.9 0 1,0 -3.8,0 M627,324.88 a1.9,1.9 0 1,0 3.8,0 a1.9,1.9 0 1,0 -3.8,0 M627.45,326.32 a1.9,1.9 0 1,0 3.8,0 a1.9,1.9 0 1,0 -3.8,0 M627.9,325.39 a1.9,1.9 0 1,0 3.8,0 a1.9,1.9 0 1,0 -3.8,0 M628.35,326.46 a1.9,1.9 0 1,0 3.8,0 a1.9,1.9 0 1,0 -3.8,0 M628.8,324.64 a1.9,1.9 0 1,0 3.8,0 a1.9,1.9 0 1,0 -3.8,0 M629.25,326.53 a1.9,1.9 0 1,0 3.8,0 a1.9,1.9 0 1,0 -3.8,0 M629.7,324.52 a1.9,1.9 0 1,0 3.8,0 a1.9,1.9 0 1,0 -3.8,0 M630.15,325.27 a1.9,1.9 0 1,0 3.8,0 a1.9,1.9 0 1,0 -3.8,0 M630.6,325.8 a1.9,1.9 0 1,0 3.8,0 a1.9,1.9 0 1,0 -3.8,0 M631.05,324.8 a1.9,1.9 0 1,0 3.8,0 a1.9,1.9 0 1,0 -3.8,0 M631.5,324.95 a1.9,1.9 0 1,0 3.8,0 a1.9,1.9 0 1,0 -3.8,0 M631.95,326.34 a1.9,1.9 0 1,0 3.8,0 a1.9,1.9 0 1,0 -3.8,0 M632.4,324.89 a1.9,1.9 0 1,0 3.8,0 a1.9,1.9 0 1,0 -3.8,0 M632.85,325.37 a1.9,1.9 0 1,0 3.8,0 a1.9,1.9 0 1,0 -3.8,0 M633.3,325.34 a1.9,1.9 0 1,0 3.8,0 a1.9,1.9 0 1,0 -3.8,0 M633.75,325.04 a1.9,1.9 0 1,0 3.8,0 a1.9,1.9 0 1,0 -3.8,0 M634.2,326.47 a1.9,1.9 0 1,0 3.8,0 a1.9,1.9 0 1,0 -3.8,0 M634.65,325.74 a1.9,1.9 0 1,0 3.8,0 a1.9,1.9 0 1,0 -3.8,0 M635.1,324.58 a1.9,1.9 0 1,0 3.8,0 a1.9,1.9 0 1,0 -3.8,0 M635.55,324.75 a1.9,1.9 0 1,0 3.8,0 a1.9,1.9 0 1,0 -3.8,0 M636,325.69 a1.9,1.9 0 1,0 3.8,0 a1.9,1.9 0 1,0 -3.8,0 M636.45,325.15 a1.9,1.9 0 1,0 3.8,0 a1.9,1.9 0 1,0 -3.8,0 M636.9,325.75 a1.9,1.9 0 1,0 3.8,0 a1.9,1.9 0 1,0 -3.8,0 M637.35,325.9 a1.9,1.9 0 1,0 3.8,0 a1.9,1.9 0 1,0 -3.8,0 M637.8,325.4 a1.9,1.9 0 1,0 3.8,0 a1.9,1.9 0 1,0 -3.8,0 M638.25,325.78 a1.9,1.9 0 1,0 3.8,0 a1.9,1.9 0 1,0 -3.8,0 M638.7,324.92 a1.9,1.9 0 1,0 3.8,0 a1.9,1.9 0 1,0 -3.8,0 M639.15,326.1 a1.9,1.9 0 1,0 3.8,0 a1.9,1.9 0 1,0 -3.8,0 M639.6,324.75 a1.9,1.9 0 1,0 3.8,0 a1.9,1.9 0 1,0 -3.8,0 M640.05,324.57 a1.9,1.9 0 1,0 3.8,0 a1.9,1.9 0 1,0 -3.8,0 M640.5,325.26 a1.9,1.9 0 1,0 3.8,0 a1.9,1.9 0 1,0 -3.8,0 M640.95,325.25 a1.9,1.9 0 1,0 3.8,0 a1.9,1.9 0 1,0 -3.8,0 M641.4,324.34 a1.9,1.9 0 1,0 3.8,0 a1.9,1.9 0 1,0 -3.8,0 M641.85,324.4 a1.9,1.9 0 1,0 3.8,0 a1.9,1.9 0 1,0 -3.8,0 M642.3,325.9 a1.9,1.9 0 1,0 3.8,0 a1.9,1.9 0 1,0 -3.8,0 M642.75,324.27 a1.9,1.9 0 1,0 3.8,0 a1.9,1.9 0 1,0 -3.8,0 M643.2,324.95 a1.9,1.9 0 1,0 3.8,0 a1.9,1.9 0 1,0 -3.8,0 M643.65,324.38 a1.9,1.9 0 1,0 3.8,0 a1.9,1.9 0 1,0 -3.8,0 M644.1,326.24 a1.9,1.9 0 1,0 3.8,0 a1.9,1.9 0 1,0 -3.8,0 M644.55,325.8 a1.9,1.9 0 1,0 3.8,0 a1.9,1.9 0 1,0 -3.8,0 M645,326.13 a1.9,1.9 0 1,0 3.8,0 a1.9,1.9 0 1,0 -3.8,0 M645.45,326.03 a1.9,1.9 0 1,0 3.8,0 a1.9,1.9 0 1,0 -3.8,0 M645.9,324.24 a1.9,1.9 0 1,0 3.8,0 a1.9,1.9 0 1,0 -3.8,0 M646.35,325.88 a1.9,1.9 0 1,0 3.8,0 a1.9,1.9 0 1,0 -3.8,0 M646.8,324.56 a1.9,1.9 0 1,0 3.8,0 a1.9,1.9 0 1,0 -3.8,0 M647.25,324.1 a1.9,1.9 0 1,0 3.8,0 a1.9,1.9 0 1,0 -3.8,0 M647.7,324.3 a1.9,1.9 0 1,0 3.8,0 a1.9,1.9 0 1,0 -3.8,0 M648.15,323.97 a1.9,1.9 0 1,0 3.8,0 a1.9,1.9 0 1,0 -3.8,0 M648.6,325.63 a1.9,1.9 0 1,0 3.8,0 a1.9,1.9 0 1,0 -3.8,0 M649.05,324.13 a1.9,1.9 0 1,0 3.8,0 a1.9,1.9 0 1,0 -3.8,0 M649.5,324.21 a1.9,1.9 0 1,0 3.8,0 a1.9,1.9 0 1,0 -3.8,0 M649.95,323.86 a1.9,1.9 0 1,0 3.8,0 a1.9,1.9 0 1,0 -3.8,0 M650.4,325.47 a1.9,1.9 0 1,0 3.8,0 a1.9,1.9 0 1,0 -3.8,0 M650.85,325.33 a1.9,1.9 0 1,0 3.8,0 a1.9,1.9 0 1,0 -3.8,0 M651.3,325.03 a1.9,1.9 0 1,0 3.8,0 a1.9,1.9 0 1,0 -3.8,0 M651.75,324.42 a1.9,1.9 0 1,0 3.8,0 a1.9,1.9 0 1,0 -3.8,0 M652.2,323.99 a1.9,1.9 0 1,0 3.8,0 a1.9,1.9 0 1,0 -3.8,0 M652.65,324.37 a1.9,1.9 0 1,0 3.8,0 a1.9,1.9 0 1,0 -3.8,0 M653.1,325.04 a1.9,1.9 0 1,0 3.8,0 a1.9,1.9 0 1,0 -3.8,0 M653.55,325.23 a1.9,1.9 0 1,0 3.8,0 a1.9,1.9 0 1,0 -3.8,0 M654,323.87 a1.9,1.9 0 1,0 3.8,0 a1.9,1.9 0 1,0 -3.8,0 M654.45,323.53 a1.9,1.9 0 1,0 3.8,0 a1.9,1.9 0 1,0 -3.8,0 M654.9,324.17 a1.9,1.9 0 1,0 3.8,0 a1.9,1.9 0 1,0 -3.8,0 M655.35,324.53 a1.9,1.9 0 1,0 3.8,0 a1.9,1.9 0 1,0 -3.8,0 M655.8,323.19 a1.9,1.9 0 1,0 3.8,0 a1.9,1.9 0 1,0 -3.8,0 M656.25,322.86 a1.9,1.9 0 1,0 3.8,0 a1.9,1.9 0 1,0 -3.8,0 M656.7,323.26 a1.9,1.9 0 1,0 3.8,0 a1.9,1.9 0 1,0 -3.8,0 M657.15,324.82 a1.9,1.9 0 1,0 3.8,0 a1.9,1.9 0 1,0 -3.8,0 M657.6,324.07 a1.9,1.9 0 1,0 3.8,0 a1.9,1.9 0 1,0 -3.8,0 M658.05,322.57 a1.9,1.9 0 1,0 3.8,0 a1.9,1.9 0 1,0 -3.8,0 M658.5,322.85 a1.9,1.9 0 1,0 3.8,0 a1.9,1.9 0 1,0 -3.8,0 M658.95,323.43 a1.9,1.9 0 1,0 3.8,0 a1.9,1.9 0 1,0 -3.8,0 M659.4,324.41 a1.9,1.9 0 1,0 3.8,0 a1.9,1.9 0 1,0 -3.8,0 M659.85,322.9 a1.9,1.9 0 1,0 3.8,0 a1.9,1.9 0 1,0 -3.8,0 M660.3,322.41 a1.9,1.9 0 1,0 3.8,0 a1.9,1.9 0 1,0 -3.8,0 M660.75,323.1 a1.9,1.9 0 1,0 3.8,0 a1.9,1.9 0 1,0 -3.8,0 M661.2,323.07 a1.9,1.9 0 1,0 3.8,0 a1.9,1.9 0 1,0 -3.8,0 M661.65,323.53 a1.9,1.9 0 1,0 3.8,0 a1.9,1.9 0 1,0 -3.8,0 M662.1,322.66 a1.9,1.9 0 1,0 3.8,0 a1.9,1.9 0 1,0 -3.8,0 M662.55,323.23 a1.9,1.9 0 1,0 3.8,0 a1.9,1.9 0 1,0 -3.8,0 M663,324.21 a1.9,1.9 0 1,0 3.8,0 a1.9,1.9 0 1,0 -3.8,0 M663.45,322.45 a1.9,1.9 0 1,0 3.8,0 a1.9,1.9 0 1,0 -3.8,0 M663.9,323.5 a1.9,1.9 0 1,0 3.8,0 a1.9,1.9 0 1,0 -3.8,0 M664.35,323.79 a1.9,1.9 0 1,0 3.8,0 a1.9,1.9 0 1,0 -3.8,0 M664.8,322.63 a1.9,1.9 0 1,0 3.8,0 a1.9,1.9 0 1,0 -3.8,0 M665.25,323.44 a1.9,1.9 0 1,0 3.8,0 a1.9,1.9 0 1,0 -3.8,0 M665.7,322.77 a1.9,1.9 0 1,0 3.8,0 a1.9,1.9 0 1,0 -3.8,0 M666.15,322.96 a1.9,1.9 0 1,0 3.8,0 a1.9,1.9 0 1,0 -3.8,0 M666.6,323.58 a1.9,1.9 0 1,0 3.8,0 a1.9,1.9 0 1,0 -3.8,0 M667.05,323.94 a1.9,1.9 0 1,0 3.8,0 a1.9,1.9 0 1,0 -3.8,0 M667.5,323.11 a1.9,1.9 0 1,0 3.8,0 a1.9,1.9 0 1,0 -3.8,0 M667.95,322.45 a1.9,1.9 0 1,0 3.8,0 a1.9,1.9 0 1,0 -3.8,0 M668.4,323.63 a1.9,1.9 0 1,0 3.8,0 a1.9,1.9 0 1,0 -3.8,0 M668.85,323.12 a1.9,1.9 0 1,0 3.8,0 a1.9,1.9 0 1,0 -3.8,0 M669.3,322.22 a1.9,1.9 0 1,0 3.8,0 a1.9,1.9 0 1,0 -3.8,0 M669.75,323.24 a1.9,1.9 0 1,0 3.8,0 a1.9,1.9 0 1,0 -3.8,0 M670.2,323.31 a1.9,1.9 0 1,0 3.8,0 a1.9,1.9 0 1,0 -3.8,0 M670.65,322.28 a1.9,1.9 0 1,0 3.8,0 a1.9,1.9 0 1,0 -3.8,0 M671.1,322.56 a1.9,1.9 0 1,0 3.8,0 a1.9,1.9 0 1,0 -3.8,0 M671.55,323.86 a1.9,1.9 0 1,0 3.8,0 a1.9,1.9 0 1,0 -3.8,0 M672,323.49 a1.9,1.9 0 1,0 3.8,0 a1.9,1.9 0 1,0 -3.8,0 M672.45,323.78 a1.9,1.9 0 1,0 3.8,0 a1.9,1.9 0 1,0 -3.8,0 M672.9,322.96 a1.9,1.9 0 1,0 3.8,0 a1.9,1.9 0 1,0 -3.8,0 M673.35,322.94 a1.9,1.9 0 1,0 3.8,0 a1.9,1.9 0 1,0 -3.8,0 M673.8,322.19 a1.9,1.9 0 1,0 3.8,0 a1.9,1.9 0 1,0 -3.8,0 M674.25,322.06 a1.9,1.9 0 1,0 3.8,0 a1.9,1.9 0 1,0 -3.8,0 M674.7,323.65 a1.9,1.9 0 1,0 3.8,0 a1.9,1.9 0 1,0 -3.8,0 M675.15,323.88 a1.9,1.9 0 1,0 3.8,0 a1.9,1.9 0 1,0 -3.8,0 M675.6,322.62 a1.9,1.9 0 1,0 3.8,0 a1.9,1.9 0 1,0 -3.8,0 M676.05,323.02 a1.9,1.9 0 1,0 3.8,0 a1.9,1.9 0 1,0 -3.8,0 M676.5,323.24 a1.9,1.9 0 1,0 3.8,0 a1.9,1.9 0 1,0 -3.8,0 M676.95,323.53 a1.9,1.9 0 1,0 3.8,0 a1.9,1.9 0 1,0 -3.8,0 M677.4,322.62 a1.9,1.9 0 1,0 3.8,0 a1.9,1.9 0 1,0 -3.8,0 M677.85,322.21 a1.9,1.9 0 1,0 3.8,0 a1.9,1.9 0 1,0 -3.8,0 M678.3,322.73 a1.9,1.9 0 1,0 3.8,0 a1.9,1.9 0 1,0 -3.8,0 M678.75,324.32 a1.9,1.9 0 1,0 3.8,0 a1.9,1.9 0 1,0 -3.8,0 M679.2,322.99 a1.9,1.9 0 1,0 3.8,0 a1.9,1.9 0 1,0 -3.8,0 M679.65,323.04 a1.9,1.9 0 1,0 3.8,0 a1.9,1.9 0 1,0 -3.8,0 M680.1,324.35 a1.9,1.9 0 1,0 3.8,0 a1.9,1.9 0 1,0 -3.8,0 M680.55,323.91 a1.9,1.9 0 1,0 3.8,0 a1.9,1.9 0 1,0 -3.8,0 M681,324.58 a1.9,1.9 0 1,0 3.8,0 a1.9,1.9 0 1,0 -3.8,0" fill="#d81818"/>
<path d="M554,285.47 554.5,286.86 555,288.19 555.5,289.48 556,290.73 556.5,291.93 557,293.08 557.5,294.2 558,295.28 558.5,296.32 559,297.32 559.5,298.29 560,299.22 560.5,300.12 561,300.99 561.5,301.82 562,302.63 562.5,303.41 563,304.16 563.5,304.89 564,305.59 564.5,306.26 565,306.91 565.5,307.54 566,308.15 566.5,308.73 567,309.3 567.5,309.84 568,310.37 568.5,310.87 569,311.36 569.5,311.83 570,312.29 570.5,312.72 571,313.15 571.5,313.56 572,313.95 572.5,314.33 573,314.7 573.5,315.05 574,315.39 574.5,315.72 575,316.04 575.5,316.34 576,316.64 576.5,316.92 577,317.2 577.5,317.46 578,317.72 578.5,317.96 579,318.2 579.5,318.43 580,318.65 580.5,318.87 581,319.07 581.5,319.27 582,319.46 582.5,319.65 583,319.83 583.5,320 584,320.16 584.5,320.32 585,320.48 585.5,320.63 586,320.77 586.5,320.91 587,321.04 587.5,321.17 588,321.3 588.5,321.42 589,321.53 589.5,321.65 590,321.75 590.5,321.86 591,321.96 591.5,322.06 592,322.15 592.5,322.24 593,322.33 593.5,322.41 594,322.49 594.5,322.57 595,322.64 595.5,322.72 596,322.79 596.5,322.85 597,322.92 597.5,322.98 598,323.04 598.5,323.1 599,323.16 599.5,323.21 600,323.26 600.5,323.32 601,323.36 601.5,323.41 602,323.46 602.5,323.5 603,323.54 603.5,323.58 604,323.62 604.5,323.66 605,323.7 605.5,323.73 606,323.77 606.5,323.8 607,323.83 607.5,323.86 608,323.89 608.5,323.92 609,323.95 609.5,323.98 610,324 610.5,324.03 611,324.05 611.5,324.07 612,324.09 612.5,324.12 613,324.14 613.5,324.16 614,324.18 614.5,324.19 615,324.21 615.5,324.23 616,324.25 616.5,324.26 617,324.28 617.5,324.29 618,324.31 618.5,324.32 619,324.33 619.5,324.35 620,324.36 620.5,324.37 621,324.38 621.5,324.39 622,324.41 622.5,324.42 623,324.43 623.5,324.44 624,324.44 624.5,324.45 625,324.46 625.5,324.47 626,324.48 626.5,324.49 627,324.49 627.5,324.5 628,324.51 628.5,324.52 629,324.52 629.5,324.53 630,324.53 630.5,324.54 631,324.55 631.5,324.55 632,324.56 632.5,324.56 633,324.57 633.5,324.57 634,324.58 634.5,324.58 635,324.58 635.5,324.59 636,324.59 636.5,324.6 637,324.6 637.5,324.6 638,324.61 638.5,324.61 639,324.61 639.5,324.62 640,324.62 640.5,324.62 641,324.62 641.5,324.63 642,324.63 642.5,324.63 643,324.63 643.5,324.64 644,324.64 644.5,324.64 645,324.64 645.5,324.65 646,324.65 646.5,324.65 647,324.65 647.5,324.65 648,324.65 648.5,324.66 649,324.66 649.5,324.66 650,324.66 650.5,324.66 651,324.66 651.5,324.66 652,324.67 652.5,324.67 653,324.67 653.5,324.67 654,324.67 654.5,324.67 655,324.67 655.5,324.67 656,324.67 656.5,324.68 657,324.68 657.5,324.68 658,324.68 658.5,324.68 659,324.68 659.5,324.68 660,324.68 660.5,324.68 661,324.68 661.5,324.68 662,324.68 662.5,324.68 663,324.68 663.5,324.69 664,324.69 664.5,324.69 665,324.69 665.5,324.69 666,324.69 666.5,324.69 667,324.69 667.5,324.69 668,324.69 668.5,324.69 669,324.69 669.5,324.69 670,324.69 670.5,324.69 671,324.69 671.5,324.69 672,324.69 672.5,324.69 673,324.69 673.5,324.69 674,324.69 674.5,324.69 675,324.69 675.5,324.69 676,324.69 676.5,324.69 677,324.69 677.5,324.69 678,324.69 678.5,324.69 679,324.7 679.5,324.7 680,324.7 680.5,324.7 681,324.7 681.5,324.7 682,324.7 682.5,324.7 683,324.7" stroke="#1a1030" stroke-width="0.9" fill="none"/>
<line x1="553.9" y1="276" x2="553.9" y2="327.8" stroke="#333" stroke-width="1.5"/>
<line x1="553.2" y1="327.3" x2="683" y2="327.3" stroke="#000" stroke-width="1.5"/>
<text transform="translate(523.6,324.6) rotate(-90)" font-family="Liberation Serif" font-size="11" fill="#000" textLength="30.4" lengthAdjust="spacingAndGlyphs">[<tspan font-style="italic">5HT</tspan>]<tspan font-size="6" dy="1.5">1</tspan></text>
<text transform="translate(537,324.6) rotate(-90)" font-family="Liberation Serif" font-size="11" fill="#000" textLength="30.4" lengthAdjust="spacingAndGlyphs">[<tspan font-style="italic">5HT</tspan>]<tspan font-size="6" dy="1.5">2</tspan></text>
<line x1="527.6" y1="291" x2="527.6" y2="327.7" stroke="#aaa" stroke-width="1"/>
<text transform="translate(530.2,289.4) rotate(-90)" font-family="Liberation Serif" font-size="10" fill="#000" textLength="8" lengthAdjust="spacingAndGlyphs">[1]</text>
</svg>
</body></html>
